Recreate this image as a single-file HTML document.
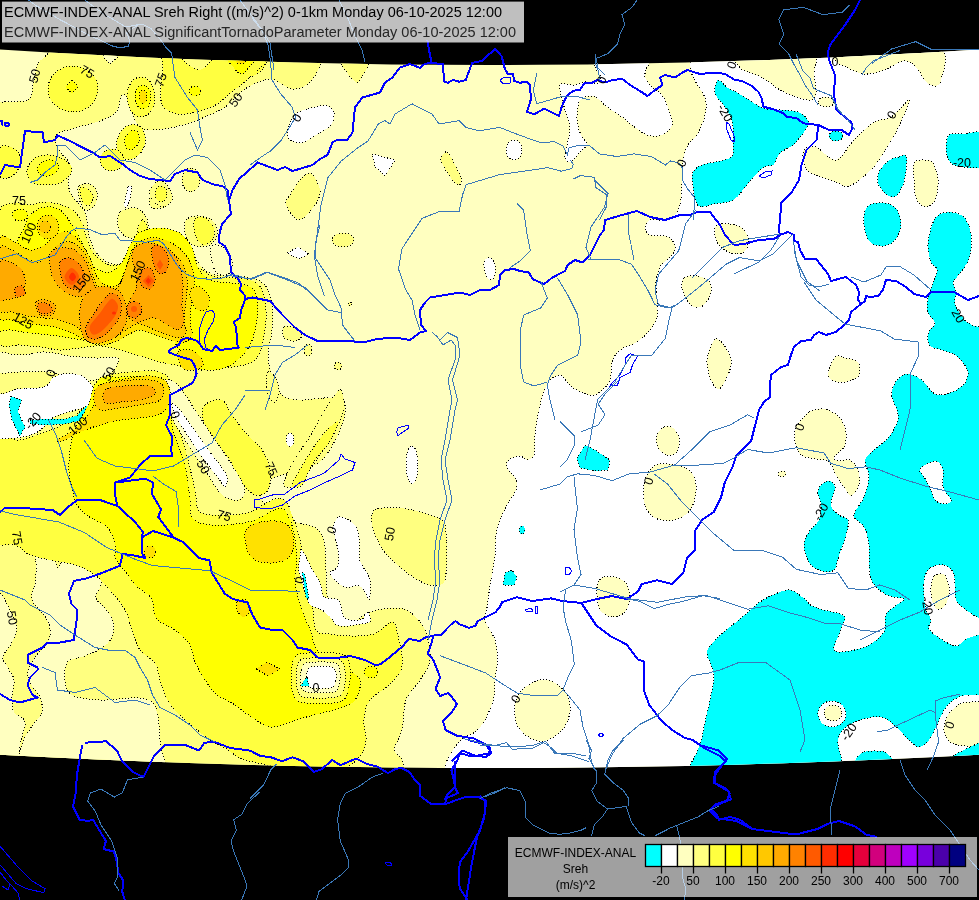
<!DOCTYPE html>
<html><head><meta charset="utf-8"><style>
html,body{margin:0;padding:0;background:#000;width:979px;height:900px;overflow:hidden}
svg{display:block}
text{font-family:"Liberation Sans",Arial,sans-serif}
.k{stroke:#000;stroke-width:1;stroke-dasharray:1 2;shape-rendering:crispEdges}
.r{fill:none;stroke:#3a78b8;stroke-width:1;shape-rendering:crispEdges}
.b{fill:none;stroke:#0000ff;stroke-width:2;stroke-linejoin:round;shape-rendering:crispEdges}
.lk{fill:none;stroke:#0000ff;stroke-width:1;shape-rendering:crispEdges}
.cl{font-size:12.5px;fill:#000;text-anchor:middle;dominant-baseline:central}
</style></head><body>
<svg width="979" height="900" viewBox="0 0 979 900">
<defs><clipPath id="m"><path d="M0.0,49.6 L49.0,52.5 L97.9,55.1 L146.8,57.5 L195.8,59.5 L244.8,61.1 L293.7,62.5 L342.6,63.6 L391.6,64.4 L440.6,64.8 L489.5,65.0 L538.5,64.8 L587.4,64.4 L636.4,63.6 L685.3,62.5 L734.2,61.1 L783.2,59.5 L832.1,57.5 L881.1,55.1 L930.0,52.5 L979.0,49.6 L979.0,754.8 L930.0,757.3 L881.1,759.6 L832.1,761.5 L783.2,763.2 L734.2,764.7 L685.3,765.9 L636.4,766.8 L587.4,767.5 L538.5,767.9 L489.5,768.0 L440.6,767.9 L391.6,767.5 L342.6,766.8 L293.7,765.9 L244.8,764.7 L195.8,763.2 L146.8,761.5 L97.9,759.6 L49.0,757.3 L0.0,754.8Z"/></clipPath></defs>
<rect width="979" height="900" fill="#000"/>
<g clip-path="url(#m)">
<rect width="979" height="900" fill="#ffffc0"/>
<path d="M690,40C740,36.3 945.4,-71.4 990,40C1040,165 1081,665 990,790C899,915 535,793.3 444,790C436,789.7 443,775.8 444,770C445,764.2 447,760.2 450,755C453,749.8 457.8,742.8 462,739C466.2,735.2 471.2,735.2 475,732C478.8,728.8 482,725.5 485,720C488.2,714.2 492.3,703.7 494,697C495.7,690.4 494.4,686.2 495,680C495.6,673.8 497.5,666.7 497.5,660C497.5,653.3 497.1,646.7 495,640C492.9,633.3 486.2,625.8 485,620C483.8,614.2 486.7,610.8 487.5,605C488.3,599.2 489.2,590 490,585C490.6,581 491.3,579 492,575C492.8,570 494.3,561.7 495,555C495.7,548.3 495.2,540.8 496,535C496.8,529.2 498.2,525 500,520C501.8,515 504.3,510 507,505C509.7,500 514.5,494.2 516,490C517.4,486.2 517.5,483.7 516,480C514.5,476.2 508.2,470.3 507,467C506,464.3 506.8,461.8 509,460C511.2,458.2 517,456 520,456C523,456 524.7,460.2 527,460C529.3,459.8 533,458.3 534,455C535.3,450.8 534.3,441.7 535,435C535.7,428.3 536.8,421.2 538,415C539.2,408.8 540.3,403.3 542,398C543.7,392.7 546,386.5 548,383C549.7,380.1 551.7,378.2 554,377C556.3,375.8 559.2,374.4 562,376C565,377.7 567.3,383.8 572,387C576.7,390.2 585.3,394.2 590,395C594.1,395.7 596.7,394.5 600,392C603.3,389.5 608,385 610,380C612,375 610.3,367 612,362C613.7,357 615.8,353.3 620,350C624.2,346.7 632,345.3 637,342C642,338.7 646.7,334.2 650,330C653.3,325.8 655.8,322 657,317C658.2,312 657.2,305.8 657,300C656.8,294.2 655.5,287.5 656,282C656.5,276.5 658.2,270.7 660,267C661.8,263.5 664.5,262.8 667,260C669.5,257.2 674.2,253.3 675,250C675.8,246.7 673.7,242.3 672,240C670.3,237.7 668.1,236.7 665,236C661.3,235.2 653.3,236.3 650,235C646.8,233.7 645,230.5 645,228C645,225.5 646.7,221.3 650,220C653.3,218.7 660.8,220.8 665,220C669.2,219.2 672.5,217.5 675,215C677.5,212.5 679.1,209.4 680,205C681.2,199.5 681.5,189.5 682,182C682.5,174.5 682,166.2 683,160C684,153.8 685.7,149.2 688,145C690.3,140.8 694.3,139.7 697,135C699.8,130 703.7,121.2 705,115C706.3,108.8 707,104.3 705,98C703,91.7 695.5,83 693,77C690.6,71.4 690.5,68.1 690,62C689.5,55.8 681.2,40.6 690,40Z" fill="#ffffff" class="k"/>
<path d="M595,50C604.2,47.2 641.5,46.7 650,50C657.6,53 646.8,65.5 646,70C645.5,72.8 644.1,74.3 645,77C646,79.8 649.2,84 652,87C654.8,90 659.2,91.2 662,95C664.8,98.8 667.3,105 669,110C670.7,115 673.2,120.8 672,125C670.8,129.2 666.2,133.3 662,135C657.8,136.7 652,136.7 647,135C642,133.3 636.2,128 632,125C627.8,122 626.2,120 622,117C617.8,114 611.5,110.3 607,107C602.5,103.7 598.7,98.7 595,97C591.4,95.3 587.7,96.2 585,97C582.3,97.8 580,99 579,102C577.7,105.8 576.7,114.5 577,120C577.3,125.5 579.3,131 581,135C582.7,139 586.8,141.5 587,144C587.2,146.5 583.8,147.8 582,150C580.2,152.2 578,155 576,157C574,159 571.8,161.8 570,162C568.2,162.2 565.4,160.5 565,158C564.5,155.2 566.2,150.2 567,145C567.8,139.8 570.3,132.8 570,127C569.7,121.2 566.5,115.3 565,110C563.5,104.7 561.8,99.2 561,95C560.2,91.1 559.3,86.8 560,85C560.7,83.2 563,84 565,84C567.5,84 571.7,85.3 575,85C578.3,84.7 581.2,82.3 585,82C588.8,81.7 595.5,84.2 598,83C600.5,81.8 600.5,77.7 600,75C599.5,72.3 595.7,70.7 595,67C594.2,62.8 588.5,52 595,50Z" fill="#ffffff" class="k"/>
<ellipse cx="514" cy="150" rx="8" ry="10" fill="#ffffff" class="k"/>
<ellipse cx="412" cy="465" rx="6" ry="19" fill="#ffffff" class="k"/>
<path d="M722,50C718.6,50.3 722.8,56 725,58C727.2,60 732,60 735,62C738,64 739.1,67.8 743,70C747.7,72.7 756.8,74.7 763,78C769.2,81.3 774.3,86.8 780,90C785.7,93.2 792,95.3 797,97C802,98.7 806.8,100.5 810,100C813.2,99.5 815.5,97.4 816,94C816.7,89.8 814.7,82.3 814,75C813.3,67.7 821.7,52.6 812,50C796.7,45.8 736.5,48.7 722,50Z" fill="#ffffc0" class="k"/>
<path d="M834,50C829.2,50.6 834,59.2 836,62C838,64.8 841.9,65.2 846,67C850.7,69 857.7,73.5 864,74C870.3,74.5 877.3,72.2 884,70C890.7,67.8 898.7,61.5 904,61C909.3,60.5 912.3,63.5 916,67C919.7,70.5 922.7,78.8 926,82C929.1,85 933.5,86.3 936,86C938.5,85.7 940.7,83.1 941,80C941.7,74 951.6,53.2 940,50C922.2,45 851.3,48 834,50Z" fill="#ffffc0" class="k"/>
<ellipse cx="826" cy="102" rx="8" ry="5" fill="#ffffc0" class="k"/>
<path d="M804,150C806,147.5 811.3,145.5 816,147C821.3,148.7 829.7,161.2 836,160C842.3,158.8 847.7,146.3 854,140C860.3,133.7 867.8,125.8 874,122C880,118.3 885.2,120.7 891,117C896.8,113.3 906.5,101.2 909,100C911.5,98.8 907.6,106.1 906,110C903.8,115.3 899.7,125 896,132C892.3,139 888.2,145.7 884,152C879.8,158.3 876.8,164.3 871,170C865.2,175.7 855.2,184.2 849,186C842.9,187.8 840,183.1 834,181C827.3,178.7 814,175.2 809,172C805.2,169.6 804.8,165.7 804,162C803.2,158.3 802,152.5 804,150Z" fill="#ffffc0" class="k"/>
<path d="M914,163C915.8,159.7 921.8,160 925,160C928.2,160 931.1,160.1 933,163C935.2,166.3 937.7,173.8 938,180C938.3,186.2 937.2,195.5 935,200C932.9,204.4 928.2,207.3 925,207C921.8,206.7 917.8,202.5 916,198C914.2,193.5 914.3,185.8 914,180C913.7,174.2 912.2,166.3 914,163Z" fill="#ffffc0" class="k"/>
<path d="M716,226C718.3,223.3 725.7,223.7 730,224C734.3,224.3 739,225.7 742,228C745,230.3 747.3,234.3 748,238C748.7,241.7 748,247.3 746,250C744,252.7 739.5,254 736,254C732.5,254 728.3,252.3 725,250C721.7,247.7 717.5,244 716,240C714.5,236 713.7,228.7 716,226Z" fill="#ffffc0" class="k"/>
<path d="M684,278C686.5,276 692.8,275.5 697,276C701.2,276.5 706.7,278.3 709,281C711.3,283.7 711.8,288 711,292C710.2,296 706.8,302.5 704,305C701.2,307.5 696.8,307.8 694,307C691.2,306.2 689,303.2 687,300C685,296.8 682.5,291.7 682,288C681.5,284.3 681.5,280 684,278Z" fill="#ffffc0" class="k"/>
<path d="M716,339C718.3,338.5 721.7,341.7 724,345C726.5,348.5 730.3,355 731,360C731.7,365 730,370.2 728,375C726,379.8 721.8,388.2 719,389C716.2,389.8 713,384.4 711,380C709,375.5 707.2,367.3 707,362C706.8,356.7 708.5,351.8 710,348C711.5,344.2 713.7,339.5 716,339Z" fill="#ffffc0" class="k"/>
<path d="M835,357C837.8,354.2 841.2,357.2 845,358C848.8,358.8 855.7,359.2 858,362C860.3,364.8 860.5,371.8 859,375C857.5,378.2 852.8,379.8 849,381C845.2,382.2 839.5,383 836,382C832.5,381 828.2,379.2 828,375C827.8,370.8 832.2,359.8 835,357Z" fill="#ffffc0" class="k"/>
<path d="M664,427C666.7,425.8 670.5,426.2 673,428C675.5,429.8 678.3,434 679,438C679.7,442 679,449.2 677,452C675,454.8 670.2,455.7 667,455C663.8,454.3 659.7,451.3 658,448C656.3,444.7 656,438.5 657,435C658,431.5 661.3,428.2 664,427Z" fill="#ffffc0" class="k"/>
<path d="M660,464C665,463.3 674.5,464.2 680,466C685.5,467.8 690.3,470.7 693,475C695.7,479.3 696.5,486.2 696,492C695.5,497.8 693.5,505.3 690,510C686.5,514.7 680.8,518.7 675,520C669.2,521.3 660,520.5 655,518C650,515.5 646.8,510.5 645,505C643.2,499.5 643.2,490.8 644,485C644.8,479.2 647.3,473.5 650,470C652.7,466.5 655.4,464.6 660,464Z" fill="#ffffc0" class="k"/>
<path d="M604,577C607.3,576.2 614.2,576.7 618,578C621.8,579.3 625,581.7 627,585C629,588.3 630.3,593.5 630,598C629.7,602.5 628,608.8 625,612C622,615.2 616.2,617.3 612,617C607.8,616.7 602.5,613.7 600,610C597.5,606.3 597.3,599.5 597,595C596.7,590.5 596.8,586 598,583C599.2,580 600.7,577.8 604,577Z" fill="#ffffc0" class="k"/>
<path d="M540,680C545.5,678.8 550.5,680.5 555,683C559.5,685.5 564.5,690.2 567,695C569.5,699.8 570.8,706.2 570,712C569.2,717.8 566.2,725.2 562,730C557.8,734.8 550.3,739.7 545,741C539.7,742.3 534.7,740.7 530,738C525.3,735.3 519.5,730.5 517,725C514.5,719.5 514.2,710.8 515,705C515.8,699.2 517.8,694.2 522,690C526.2,685.8 534.5,681.2 540,680Z" fill="#ffffc0" class="k"/>
<path d="M809,412C812.3,410.7 819,408.2 824,409C829,409.8 835.3,413.2 839,417C842.7,420.8 845.2,427 846,432C846.8,437 846,442.8 844,447C842,451.2 834.8,454.7 834,457C833.2,459.3 836.5,460.5 839,461C841.7,461.5 846.8,458.5 850,460C853.2,461.5 856.5,465.8 858,470C859.5,474.2 860.2,480.7 859,485C857.8,489.3 853.5,495.7 851,496C848.5,496.3 846.5,490.5 844,487C841.5,483.5 838.5,479.2 836,475C833.5,470.8 832.3,464.7 829,462C825.7,459.3 820.7,460.2 816,459C811.3,457.8 804.5,457.8 801,455C797.5,452.2 795.8,446.7 795,442C794.2,437.3 794.5,431.2 796,427C797.5,422.8 801.8,419.5 804,417C805.9,414.9 806.4,413.1 809,412Z" fill="#ffffc0" class="k"/>
<ellipse cx="782" cy="474" rx="4" ry="3" fill="#ffffc0" class="k"/>
<path d="M718.3,80C720.5,80 725,86.1 728.3,88.3C731.6,90.5 734.4,91.1 738.3,93.3C742.2,95.5 747.5,99.2 751.7,101.7C755.9,104.2 758.6,106.9 763.3,108.3C768,109.7 774.4,109.4 780,110C785.6,110.6 792.2,110.3 796.7,111.7C801.2,113.1 804.8,116.1 806.7,118.3C808.5,120.4 809.1,122.4 808.3,125C807.5,127.8 804.2,131.7 801.7,135C799.2,138.3 796.6,142.2 793.3,145C790,147.8 784.5,149.5 781.7,151.7C779.1,153.8 778.1,156.1 776.7,158.3C775.3,160.5 775.2,163.6 773.3,165C771.3,166.4 768,165.1 765,166.7C762,168.4 758,171.9 755,175C752,178.1 750.1,181.1 746.7,185C743.1,189.2 738.9,196.8 733.3,200C727.7,203.2 718.8,203.1 713.3,204.2C708,205.3 703,207.7 700,206.7C697,205.7 696.1,202 695,198.3C693.8,194.1 692.8,186.1 692.5,181.7C692.2,177.7 691.8,174.5 693.3,171.7C694.8,168.9 697.7,166.5 701.7,165C706.4,163.2 716.7,162.2 721.7,160.8C725.9,159.6 729.8,158.8 731.7,156.7C733.6,154.6 733.1,151.7 733.3,148.3C733.6,144.1 733.6,136.4 733.3,131.7C733,127 733.1,124.2 731.7,120C730.3,115.8 727.5,110.6 725,106.7C722.5,102.8 718.4,99.8 716.7,96.7C715,93.6 714.7,90.8 715,88C715.3,85.2 716.1,80 718.3,80Z" fill="#00ffff" class="k"/>
<ellipse cx="836" cy="136" rx="7" ry="5" fill="#00ffff" class="k"/>
<path d="M899,157C901.7,156.3 904.8,153.8 906,156C907.2,158.2 906.5,165.2 906,170C905.5,174.8 904.7,180.7 903,185C901.3,189.3 898.7,194.3 896,196C893.3,197.7 889.9,197.1 887,195C884,192.8 879.2,187.2 878,183C876.8,178.8 878,173.8 880,170C882,166.2 886.8,162.2 890,160C893.1,157.9 896.3,157.7 899,157Z" fill="#00ffff" class="k"/>
<path d="M949,135C951.8,132.3 957.4,134.2 963,134C969,133.8 981.3,128.8 985,134C988.7,139.2 989.7,159.7 985,165C980.3,170.3 963,166.8 957,166C953,165.4 950.8,162.7 949,160C947.2,157.3 946,154.2 946,150C946,145.8 946.2,137.7 949,135Z" fill="#00ffff" class="k"/>
<path d="M870,205C873.5,203 880.5,202.2 885,203C889.5,203.8 894.3,206.3 897,210C899.7,213.7 901.3,220 901,225C900.7,230 898,236.5 895,240C892,243.5 887.2,245.7 883,246C878.8,246.3 873,244.7 870,242C867,239.3 866,234.5 865,230C864,225.5 863.2,219.2 864,215C864.8,210.8 866.5,207 870,205Z" fill="#00ffff" class="k"/>
<path d="M940,214C944,212 951.7,212 956,213C960.3,214 963.5,216.3 966,220C968.5,223.7 970.3,229.2 971,235C971.7,240.8 971.2,249.5 970,255C968.8,260.5 966.2,264.3 964,268C961.8,271.7 958.8,274.5 957,277C955.3,279.3 953.2,280.5 953,283C952.8,285.5 955.7,288.7 956,292C956.3,295.3 954.3,299.3 955,303C955.7,306.7 957.8,310.7 960,314C962.2,317.3 964.8,320.8 968,323C971.2,325.2 975.3,326.3 979,327C982.7,327.7 989.9,322.6 990,327C991.8,389.2 991.8,638.7 990,700C989.9,704.8 982.2,695.8 979,695C975.9,694.2 974.2,694.7 971,695C967.7,695.3 963.2,695 959,697C954.8,699 949.8,702 946,707C942.2,712 938.8,721.5 936,727C933.3,732.3 931.8,736.7 929,740C926.2,743.3 922.3,747 919,747C915.7,747 912.7,743.2 909,740C904.8,736.3 898.7,728.8 894,725C889.3,721.2 886,718 881,717C876,716 869.8,717.3 864,719C858.2,720.7 850.3,723.5 846,727C841.7,730.5 839.1,734 838,740C836.3,748.8 851.5,776.1 836,780C809.7,786.7 704.3,782.5 680,780C672.8,779.3 686.7,770.8 690,765C693.3,759.2 697.5,752.2 700,745C702.5,737.8 703.3,729.5 705,722C706.7,714.5 708.5,707.5 710,700C711.5,692.5 713.8,682.8 714,677C714.1,672.1 712.2,669.2 711,665C709.8,660.8 706.3,656.2 707,652C707.7,647.8 711.2,644.2 715,640C718.8,635.8 725,631.2 730,627C735,622.8 740,619.2 745,615C750,610.8 755,605.5 760,602C765,598.5 770,596 775,594C780,592 785.5,589.5 790,590C794.5,590.5 798.3,594.3 802,597C805.7,599.7 808.3,603.8 812,606C815.7,608.2 819.2,608.5 824,610C829.3,611.7 841.2,612.8 844,616C846.8,619.2 842.5,623.9 841,629C839.3,634.7 832.7,646.3 834,650C835.3,653.7 843.2,651.8 849,651C854.8,650.2 863.2,648.2 869,645C874.8,641.8 881.2,637 884,632C886.8,627 884.3,619.2 886,615C887.7,610.8 891,609.7 894,607C897,604.3 904.8,600.8 904,599C903.2,597.2 893.7,598 889,596C884.3,594 879.2,590.5 876,587C872.8,583.5 870.9,580.3 870,575C868.8,568 870,553 869,545C868.1,537.6 866.5,531.7 864,527C861.5,522.3 855.3,519.8 854,517C852.8,514.4 854.7,512.6 856,510C857.7,506.7 861.8,502.5 864,497C866.2,491.5 868.8,483.2 869,477C869.2,470.8 864.2,464.5 865,460C865.8,455.5 870.1,453.7 874,450C878,446.2 885,442 889,437C893,432 896.7,424.5 898,420C899.1,416.1 898,413.8 897,410C896,406.2 892.7,400.8 892,397C891.3,393.2 891.7,390.3 893,387C894.3,383.7 897.5,379.2 900,377C902.5,374.8 905.2,374 908,374C910.8,374 914.2,375.5 917,377C919.8,378.5 922.5,380.5 925,383C927.5,385.5 929.5,390 932,392C934.5,394 936.6,395 940,395C943.5,395 948.8,394 953,392C957.2,390 962.5,386.3 965,383C967.5,379.7 968.3,375.3 968,372C967.7,368.7 965.2,365.8 963,363C960.8,360.2 958.3,357.2 955,355C951.7,352.8 946.8,351.3 943,350C939.2,348.7 934.6,348.7 932,347C929.4,345.3 927.8,342.8 927.5,340C927.2,337.2 928.8,332.8 930,330C931.2,327.2 935.3,326 935,323C934.7,320 929.2,316.2 928,312C926.8,307.8 927.2,302.8 928,298C928.8,293.2 931.5,287.7 933,283C934.5,278.3 937.3,273.5 937,270C936.7,266.5 932.4,265.8 931,262C929.5,257.8 927.8,251.2 928,245C928.2,238.8 930,230.2 932,225C934,219.9 936,216 940,214Z" fill="#00ffff" class="k"/>
<path d="M920,469C921.7,465.8 932.2,460.8 936,461C939.8,461.2 941.8,465.7 943,470C944.2,474.3 941.7,482 943,487C944.3,492 950.5,497.2 951,500C951.4,502.5 948.5,503.8 946,504C943.5,504.2 938.5,503.3 936,501C933.5,498.7 932.7,493.5 931,490C929.3,486.5 927.8,483.5 926,480C924.2,476.5 918.3,472.2 920,469Z" fill="#ffffff" class="k"/>
<path d="M930,568C933.3,565.5 940.2,564.3 944,565C947.8,565.7 951.2,568.7 953,572C954.8,575.3 954.5,580.3 955,585C955.5,589.7 954.2,595.8 956,600C957.8,604.2 962.2,607 966,610C969.8,613 975,616.3 979,618C983,619.7 988.2,618 990,620C991.8,622 993.1,627.5 990,630C986,633.2 971.7,636.3 966,639C961.6,641.1 960.2,646 956,646C951.8,646 945.5,641.8 941,639C936.5,636.2 930.7,632.2 929,629C927.3,625.8 931.5,623.2 931,620C930.5,616.8 927.2,613.8 926,610C924.8,606.2 924.3,602 924,597C923.7,592 923,584.8 924,580C925,575.2 926.7,570.5 930,568Z" fill="#ffffff" class="k"/>
<path d="M934,576C936,573.8 940.7,573 943,574C945.3,575 947,578.5 948,582C949,585.5 949.7,590.8 949,595C948.3,599.2 946,604.7 944,607C942.1,609.2 939,610.2 937,609C935,607.8 933,603.7 932,600C931,596.3 930.7,591 931,587C931.3,583 932,578.2 934,576Z" fill="#ffffc0" class="k"/>
<ellipse cx="832" cy="714" rx="14" ry="13" fill="#ffffff" class="k"/>
<ellipse cx="833" cy="713" rx="9" ry="8" fill="#ffffc0" class="k"/>
<path d="M960,704C964.5,701.8 970,702 975,702C980,702 988,698.3 990,704C992.5,711.2 994.2,738 990,745C985.8,752 971.7,746.5 965,746C958.8,745.5 953.5,744.7 950,742C946.5,739.3 944.3,734.5 944,730C943.7,725.5 945.3,719.3 948,715C950.7,710.7 955.5,706.2 960,704Z" fill="#ffffc0" class="k"/>
<path d="M855,770C849.3,767.3 856.7,757.2 860,754C863.3,750.8 870.3,751 875,751C879.7,751 884.8,750.8 888,754C891.2,757.2 899.5,767.3 894,770C888.5,772.7 860.7,772.7 855,770Z" fill="#00ffff" class="k"/>
<path d="M950,757 L960,752 L970,747 L979,743 L990,742 L990,775 L950,775Z" fill="#00ffff" class="k"/>
<path d="M818,490C819.2,486 825.2,481.5 828,481C830.8,480.5 834.5,483.3 835,487C835.5,491 830.3,500.3 831,505C831.7,509.7 836.2,512.5 839,515C841.8,517.5 846.8,516.7 848,520C849.2,523.3 847.5,529.2 846,535C844.5,540.8 841,549.2 839,555C837,560.8 837,567.3 834,570C831,572.7 825.2,572.3 821,571C816.8,569.7 811.8,566.3 809,562C806.2,557.7 804,550 804,545C804,540 806.5,536.2 809,532C811.5,527.8 817,524.5 819,520C821,515.5 821.2,510 821,505C820.8,500 816.8,494 818,490Z" fill="#00ffff" class="k"/>
<path d="M585,445 L595,450 L610,460 L608,470 L595,471 L580,468 L577,458Z" fill="#00ffff" class="k"/>
<ellipse cx="522" cy="530" rx="3" ry="4" fill="#00ffff" class="k"/>
<path d="M505,573 L512,570 L517,577 L514,585 L503,585Z" fill="#00ffff" class="k"/>
<path d="M49,40C94.5,38 276.5,36.7 322,40C330,40.6 324,53 322,60C320,67 315,77.2 310,82C305,86.8 298.7,89.5 292,89C285.3,88.5 277.8,79 270,79C262.2,79 252.5,84.3 245,89C237.5,93.7 232.5,102 225,107C217.5,112 208.3,115.7 200,119C191.7,122.3 183.3,125.2 175,127C166.7,128.8 156.2,130.2 150,130C144.9,129.9 141,130.1 138,126C134.3,121 130.7,105.2 128,100C126.6,97.2 124,93 122,95C120,97 119.7,107.7 116,112C112.3,116.3 106.8,118.3 100,121C93.2,123.7 82.2,125.8 75,128C67.8,130.2 60.2,131.5 57,134C54.2,136.2 55.5,140 56,143C56.5,146 58,149 60,152C62,155 66.2,157.8 68,161C69.8,164.2 71,167.7 71,171C71,174.3 68,177.2 68,181C68,184.8 69,190 71,194C73,198 77.5,201.5 80,205C82.5,208.5 84.7,210.8 86,215C87.3,219.2 87,225 88,230C89,235 90,240.5 92,245C94,249.5 96.7,253.8 100,257C103.3,260.2 107.8,263.2 112,264C116.2,264.8 121.2,264.7 125,262C128.8,259.3 131.7,251.7 135,248C138.3,244.3 140.2,241.9 145,240C150,238 158.7,236 165,236C171.3,236 178.5,237.3 183,240C187.5,242.7 189.2,247.8 192,252C194.8,256.2 196.7,261.3 200,265C203.3,268.7 206.7,272.2 212,274C217.3,275.8 225.7,275.3 232,276C238.3,276.7 244.5,276.5 250,278C255.5,279.5 261.3,280.5 265,285C268.7,289.5 270.8,297.5 272,305C273.2,312.5 272.7,321.7 272,330C271.3,338.3 268,347.5 268,355C268,362.5 269.7,368.3 272,375C274.3,381.7 277.3,390.8 282,395C286.7,399.2 292.5,399.5 300,400C308,400.5 322.5,397.2 330,398C336.6,398.7 343.3,399.7 345,405C346.7,410.3 343.8,420.8 340,430C336.2,439.2 328.7,453.3 322,460C315.3,466.7 308.7,466.7 300,470C291.3,473.3 276.3,475 270,480C263.7,485 258.7,493.3 262,500C265.3,506.7 280,514.2 290,520C300,525.8 315.9,522.2 322,535C328.3,548.3 324.2,585 328,600C331,611.7 338,623 345,625C352,627 361.7,614.8 370,612C378.3,609.2 388.3,608 395,608C401.2,608 405,608.3 410,612C415,615.7 421.7,622 425,630C428.3,638 430.8,651.7 430,660C429.2,668.3 424,673.3 420,680C416,686.7 409,691.7 406,700C403,708.3 404,721.7 402,730C400,738.3 394,745 394,750C394,755 401.2,754.9 402,760C403,766.7 412,789.1 400,790C331.3,795 58.3,903 -10,790C-78.3,677 -16.3,227 -10,112C-9.1,96.1 20.8,104.5 28,100C33.4,96.6 31.3,91 33,85C34.7,79 35.3,69.5 38,64C40.7,58.5 47.2,56 49,52C50.8,48 44.2,40.2 49,40Z" fill="#ffff80" class="k"/>
<path d="M-10,352C-5,349.2 10.8,355 20,355C29.2,355 36.7,351.8 45,352C53.3,352.2 61.7,355 70,356C78.3,357 87,357.7 95,358C103,358.3 115.2,355.7 118,358C120.8,360.3 115.8,368.3 112,372C108.2,375.7 101.2,378.7 95,380C88.8,381.3 82.5,381.3 75,380C67.5,378.7 59.2,373.3 50,372C40.8,370.7 30,372 20,372C10,372 -5,375.3 -10,372C-15,368.7 -15,354.8 -10,352Z" fill="#ffffc0" class="k"/>
<path d="M32,530C33.7,527 38.9,525.2 41,526.7C43.1,528.2 42.5,534.3 44.4,539C46.4,544 50.9,552.2 53.3,557C55.4,561.3 56.9,568.5 58.7,567.6C60.5,566.7 62,555 64,551.6C65.7,548.7 67.7,547.8 71,547C74.3,546.2 79.8,545.3 83.6,547C87.4,548.7 91.1,553 94,557C96.9,561 99.8,566.3 101,571C102.2,575.7 101.8,580.5 101,585C100.2,589.5 95,593.8 96,598C97,602.2 103.7,605.6 106.7,610C109.7,614.4 113.2,619.3 113.8,624.4C114.3,629.5 112.4,636.2 110,640.4C107.6,644.5 104,646.6 99.6,649.3C95.2,652 88.9,654.3 83.6,656.4C78.3,658.5 70.7,658.1 67.6,662C64.5,665.9 64.3,674.5 65,680C65.7,685.5 66.3,691.7 72,695C77.8,698.3 88.7,699.5 100,700C111.3,700.5 130.8,697 140,698C146.8,698.7 152.1,699.9 155,706C158.3,713 159.5,726.3 160,740C160.5,754 176.8,783.3 158,790C134.7,798.3 42.7,797.5 20,790C2.9,784.3 19.5,756.3 22,745C24.3,734.7 31.7,727.5 35,722C37.5,717.8 41.2,716.2 42,712C42.8,707.8 42,701.8 40,697C38,692.2 32,687.5 30,683C28,678.5 27,674.5 28,670C29,665.5 32.7,660.7 36,656C39.3,651.3 45.7,646.7 48,642C50.3,637.3 50.4,632.4 49.8,628C49.2,623.6 47.3,620.2 44.4,615.6C41.4,610.9 33.5,605.5 32,599.6C30.5,593.7 35,586.8 35.6,580C36.2,573.2 36.4,564.6 35.6,558.7C34.8,552.8 31.6,549.2 31,544.4C30.4,539.6 30.3,533 32,530Z" fill="#ffffc0" class="k"/>
<path d="M-10,593C-9.8,589 -3,590.4 0,593C3.3,595.8 7.2,604.3 10,610C12.8,615.7 16.4,621.5 16.7,627C17,632.5 14,638 11.7,643C9.4,648 3.6,652.8 3,657C2.4,661.2 6.2,664.2 8,668C9.8,671.8 13.3,675.2 14,680C14.7,684.8 12,691.7 12,697C12,702.3 11.8,707.8 14,712C16.2,716.2 24,716.5 25,722C26,727.5 21.4,735.7 20,745C18.3,756.3 20,782.5 15,790C10,797.5 -8.7,799.9 -10,790C-14.2,757.2 -11.7,625.8 -10,593Z" fill="#ffffc0" class="k"/>
<path d="M212,246C214.2,243.7 221.7,245.7 225,248C228.3,250.3 231.2,255.8 232,260C232.8,264.2 232.3,270.7 230,273C227.7,275.3 221,275.8 218,274C215,272.2 213,266.7 212,262C211,257.3 209.8,248.3 212,246Z" fill="#ffffc0" class="k"/>
<path d="M101,50 L118,50 L117,58 L110,64 L104,58Z" fill="#ffffc0" class="k"/>
<path d="M337,58 L372,58 L365,72 L357,84 L350,77Z" fill="#ffff80" class="k"/>
<path d="M305,175C307,174 310,172 312,174C314.5,176.5 319.5,184.8 320,190C320.5,195.2 318.5,200 315,205C311.5,210 303.8,220 299,220C294.2,220 287.5,209.2 286,205C284.5,200.9 287.9,198.8 290,195C292.3,190.8 297.5,183.3 300,180C301.7,177.7 303,176 305,175Z" fill="#ffff80" class="k"/>
<path d="M447,152C449.3,153.2 452.7,160.7 455,165C457.3,169.3 460.3,174.7 461,178C461.6,180.9 460.7,185 459,185C457.3,185 453.7,181.3 451,178C448.3,174.7 444.7,168.3 443,165C441.7,162.4 440.3,160.2 441,158C441.7,155.8 444.7,150.8 447,152Z" fill="#ffff80" class="k"/>
<ellipse cx="343" cy="240" rx="11" ry="7" fill="#ffff80" class="k"/>
<ellipse cx="350" cy="304" rx="2" ry="2" fill="#ffff80" class="k"/>
<path d="M284,327C286,325.3 293,326.7 296,328C299,329.3 302,332.8 302,335C302,337.2 299,340.5 296,341C293,341.5 286,340.3 284,338C282,335.7 282,328.7 284,327Z" fill="#ffff80" class="k"/>
<ellipse cx="308" cy="350" rx="4" ry="6" fill="#ffff80" class="k"/>
<ellipse cx="338" cy="366" rx="4" ry="4" fill="#ffff80" class="k"/>
<path d="M268,372C269.7,371.3 274.2,374.7 276,378C277.8,381.3 279.2,388 279,392C278.8,396 276.8,401.3 275,402C273.2,402.7 269.5,399.3 268,396C266.5,392.7 266,386 266,382C266,378 266.3,372.7 268,372Z" fill="#ffff80" class="k"/>
<path d="M120,212C122.8,209.2 130.8,207.5 135,208C139.2,208.5 142.8,211.7 145,215C147.2,218.3 148.8,224.2 148,228C147.2,231.8 143.8,236.7 140,238C136.2,239.3 128.7,238.2 125,236C121.3,233.8 118.8,229 118,225C117.2,221 117.2,214.8 120,212Z" fill="#ffff80" class="k"/>
<path d="M150,198C151.7,195.8 158.7,194.7 162,195C165.3,195.3 169.5,198 170,200C170.5,202 168,205.7 165,207C162,208.3 154.5,209.5 152,208C149.5,206.5 148.3,200.2 150,198Z" fill="#ffff80" class="k"/>
<path d="M186,220C188.3,216.7 195.3,215.7 200,216C204.7,216.3 211.2,218.8 214,222C216.8,225.2 217.7,231.2 217,235C216.3,238.8 213.7,243.2 210,245C206.3,246.8 199,247.5 195,246C191,244.5 187.5,240.3 186,236C184.5,231.7 183.7,223.3 186,220Z" fill="#ffff80" class="k"/>
<path d="M79,186C80.8,183.7 87,183 90,184C93,185 96.2,188.5 97,192C97.8,195.5 97,202 95,205C93,208 87.7,211.2 85,210C82.3,208.8 80,202 79,198C78,194 77.2,188.3 79,186Z" fill="#ffff80" class="k"/>
<path d="M375,510C379.7,507.2 390.8,507.2 400,508C409.2,508.8 422.5,512.2 430,515C436.7,517.5 443.4,518 445,525C447.5,535.8 447.5,570 445,580C443.5,586.1 435.8,585.8 430,585C424.2,584.2 416.3,579.2 410,575C403.7,570.8 397,565 392,560C387,555 383.3,550.8 380,545C376.7,539.2 372.8,530.8 372,525C371.2,519.2 370.3,512.8 375,510Z" fill="#ffff80" class="k"/>
<path d="M0,210C0.7,203.4 10,203.8 15,203C20,202.2 25,205.2 30,205C35,204.8 39.7,202 45,202C50.3,202 57,203.3 62,205C67,206.7 71.5,208.7 75,212C78.5,215.3 81,220.3 83,225C85,229.7 85,235 87,240C89,245 91.2,250.8 95,255C98.8,259.2 105,263.8 110,265C115,266.2 120.8,264.5 125,262C129.2,259.5 130.8,253.3 135,250C139.2,246.7 145,243.7 150,242C155,240.3 160,239.5 165,240C170,240.5 175.8,242 180,245C184.2,248 186.7,254.2 190,258C193.3,261.8 195.8,264.8 200,268C204.2,271.2 209.2,275.3 215,277C220.8,278.7 228.3,277.2 235,278C241.7,278.8 250.2,279.2 255,282C259.8,284.8 262.2,288.9 264,295C265.8,301.3 266.3,311.7 266,320C265.7,328.3 263.8,338.3 262,345C260.2,351.4 258.7,356.5 255,360C251.3,363.5 245.8,364.7 240,366C234.2,367.3 226.7,367.3 220,368C213.3,368.7 206.7,370.3 200,370C193.3,369.7 186.7,367.3 180,366C173.3,364.7 166.7,363.7 160,362C153.3,360.3 146.7,358 140,356C133.3,354 126.7,351.7 120,350C113.3,348.3 106.7,346.3 100,346C93.3,345.7 86.7,347.3 80,348C73.3,348.7 66.7,350.2 60,350C53.3,349.8 46.7,347.8 40,347C33.3,346.2 26.7,345.7 20,345C13.3,344.3 1.2,351 0,343C-3.3,320.5 -2.5,233.3 0,210Z" fill="#ffff40" class="k"/>
<path d="M245,61C248.3,58.2 262.2,56.5 265,58C267.8,59.5 264.5,66.8 262,70C259.5,73.2 252.8,76.2 250,77C247.9,77.6 245.6,77.1 245,75C244.2,72.3 241.7,63.8 245,61Z" fill="#ffff40" class="k"/>
<path d="M0,148C0.8,144.8 5,145.3 8,146C11,146.7 16,148.8 18,152C20,155.2 21,161 20,165C19,169 15.3,174.2 12,176C8.7,177.8 1.9,180.4 0,176C-2,171.3 -1.3,153 0,148Z" fill="#ffff40" class="k"/>
<path d="M80,188C80.8,185.7 85.8,187.5 88,189C90.2,190.5 92.7,194.3 93,197C93.3,199.7 91.7,204 90,205C88.3,206 84.5,205.5 83,203C81.3,200.2 79.2,190.3 80,188Z" fill="#ffff40" class="k"/>
<path d="M195,219C196.7,216.2 201.8,216.5 205,218C208.2,219.5 212.8,224.3 214,228C215.2,231.7 213.8,237.2 212,240C210.2,242.8 205.8,245.8 203,245C200.2,244.2 196.3,239.3 195,235C193.7,230.7 193.3,221.8 195,219Z" fill="#ffff40" class="k"/>
<path d="M142,220C143.8,219 147.5,225 148,228C148.5,231 146.8,237 145,238C143.2,239 137.5,237 137,234C136.5,231 140.2,221 142,220Z" fill="#ffff40" class="k"/>
<ellipse cx="73" cy="89" rx="25" ry="23" fill="#ffff40" class="k"/>
<path d="M72,80 L78,87 L72,94 L66,87Z" fill="#ffff00" class="k"/>
<ellipse cx="141" cy="97" rx="14" ry="20" fill="#ffff40" class="k"/>
<ellipse cx="143" cy="97" rx="8" ry="12" fill="#ffff00" class="k"/>
<ellipse cx="143" cy="97" rx="4" ry="7" fill="#ffe100" class="k"/>
<ellipse cx="131" cy="142" rx="14" ry="18" fill="#ffff40" transform="rotate(20 131 142)" class="k"/>
<ellipse cx="132" cy="140" rx="7" ry="10" fill="#ffff00" transform="rotate(20 132 140)" class="k"/>
<path d="M27,170C27.5,166 31.2,160.5 35,158C38.8,155.5 45,154.7 50,155C55,155.3 61.3,157.5 65,160C68.7,162.5 72.5,166.3 72,170C71.5,173.7 66.5,179.5 62,182C57.5,184.5 50,185 45,185C40,185 35,184.5 32,182C29,179.5 26.5,174 27,170Z" fill="#ffff40" class="k"/>
<ellipse cx="48" cy="168" rx="11" ry="8" fill="#ffff00" transform="rotate(-15 48 168)" class="k"/>
<ellipse cx="112" cy="160" rx="12" ry="11" fill="#ffff40" class="k"/>
<path d="M160,180C163.3,180 168,186.7 170,190C172,193.3 173.2,197.2 172,200C170.8,202.8 166.3,207 163,207C159.7,207 154.2,202.8 152,200C149.8,197.2 148.7,193.3 150,190C151.3,186.7 156.7,180 160,180Z" fill="#ffff80" class="k"/>
<ellipse cx="161" cy="194" rx="6" ry="8" fill="#ffff40" class="k"/>
<ellipse cx="191" cy="180" rx="9" ry="12" fill="#ffff80" class="k"/>
<path d="M163,52C166.2,49 178.8,50.8 182,52C184.6,53 180.1,57 182,59C184.8,62 194.2,69.7 199,70C203.8,70.3 208.3,63.6 211,60.6C213.5,57.8 211.2,52.6 215,52C224.5,50.6 259.3,50.3 268,52C271.9,52.8 269,58.8 267,62C265,65.2 260,67.7 256,71.2C252,74.7 247.4,79.4 243,83.2C238.6,87 234.5,90 229.7,93.8C224.9,97.6 219.9,102.7 214,105.8C208.1,108.9 200.2,111 194,112.4C187.8,113.8 181.7,115.1 176.5,114C171.3,112.9 165.7,110 163,106C160.3,102 160.6,96 160.6,90C160.6,84 162.6,76.3 163,70C163.4,63.7 159.8,55 163,52Z" fill="#ffff40" class="k"/>
<path d="M227,55C230.8,52.8 253.2,53.2 257,55C260.8,56.8 252.5,62.8 250,66C247.5,69.2 244.7,73.7 242,74C239.3,74.3 236.5,71.1 234,68C231.5,64.8 223.2,57.2 227,55Z" fill="#ffff00" class="k"/>
<ellipse cx="241" cy="61" rx="5" ry="3" fill="#ffe100" class="k"/>
<ellipse cx="195" cy="91" rx="6" ry="5" fill="#ffff00" class="k"/>
<path d="M289,125C290.7,122.1 292.3,115.7 297.5,112.5C302.7,109.3 315,107.1 320,106C322.9,105.4 325.2,104.9 327.5,106C329.8,107.1 333.4,109.3 334,112.5C334.6,115.7 333.3,121.7 331,125C328.7,128.3 324.5,129.7 320,132.5C315.2,135.4 307.5,141.2 302.5,142.5C297.6,143.7 292.5,142.1 290,140C287.5,137.9 287.7,132.5 287.5,130C287.4,127.9 288,126.8 289,125Z" fill="#ffffff" class="k"/>
<path d="M372.5,154 L395,160 L385,176 L375,167Z" fill="#ffffff" class="k"/>
<path d="M287,253 L298,247 L309,254 L299,259Z" fill="#ffffff" class="k"/>
<path d="M128,186 L132,186 L130,200 L126,208 L124,205Z" fill="#ffffff" class="k"/>
<path d="M484,262C484.4,259.1 488.2,257.5 490,258C491.8,258.5 494.3,261.7 495,265C495.7,268.3 495.3,275.8 494,278C492.7,280.2 488.5,280.4 487,278C485.3,275.3 483.5,265.3 484,262Z" fill="#ffffff" class="k"/>
<path d="M341,390C342.4,392.3 344.9,401.3 344,408C343.1,414.7 339.2,422.7 335.5,430C331.8,437.3 325.9,445.5 321.7,452C317.5,458.5 314.1,463.5 310.5,469C306.9,474.5 304.4,482.3 300,485C295.6,487.7 285,489.1 284,485C283,480.9 289.6,468.8 294,460.5C298.4,452.2 305.4,443.8 310.5,435.5C315.6,427.2 320.2,417.4 324.4,410.5C328.5,403.7 332.7,397.4 335.5,394C337.2,391.9 339.6,387.7 341,390Z" fill="#ffff80" class="k"/>
<path d="M338,421.7C338.5,423.5 334.2,434.1 330,441C325.8,447.9 317.7,455.7 313,463C308.3,470.3 305.5,481.3 302,485C299.2,487.9 291,488.9 292,485C293.4,479.5 304.7,461.2 310.5,452C316.3,442.8 322.4,435.1 327,430C330.7,425.9 337.5,419.9 338,421.7Z" fill="#ffff40" class="k"/>
<path d="M-10,440C-6.6,428.5 10.8,441.3 20,440C29.2,438.7 36.7,435.3 45,432C53.3,428.7 61.7,426.2 70,420C78.3,413.8 90,402 95,395C99.1,389.2 94.2,381.8 100,378C105.8,374.2 120,373 130,372C140,371 153,369.8 160,372C166.8,374.1 169.5,379.5 172,385C174.5,390.5 173.7,397.5 175,405C176.3,412.5 177.8,420.8 180,430C182.2,439.2 185.5,450 188,460C190.5,470 193,481.3 195,490C197,498.7 195,507.8 200,512C205,516.2 216.7,515 225,515C233.3,515 242.2,514.5 250,512C257.8,509.5 266.2,502 272,500C276.9,498.3 281.7,497.5 285,500C288.3,502.5 289.7,508.8 292,515C294.5,521.7 297.8,530.8 300,540C302.2,549.2 303,560 305,570C307,580 310.2,590 312,600C313.8,610 313,624.3 316,630C318.7,635.1 324.3,633 330,634C335.7,635 342.7,636 350,636C357.3,636 367,636.3 374,634C381,631.7 388,621.7 392,622C396,622.3 396.6,630.1 398,636C399.7,643.3 403.3,658 402,666C400.7,674 395.3,678.3 390,684C384.7,689.7 374.3,694 370,700C365.7,706 364.7,713.3 364,720C363.3,726.7 366.7,734 366,740C365.3,746 364.3,751 360,756C355.7,761 349.5,767.8 340,770C330,772.3 315.8,771.7 300,770C284.2,768.3 257.5,763.7 245,760C236,757.4 230.8,751.3 225,748C219.2,744.7 215,743.3 210,740C205,736.7 200.8,733 195,728C189.2,723 180,715.5 175,710C170.1,704.7 167.5,700 165,695C162.5,690 161.7,685.3 160,680C158.3,674.7 158.3,668 155,663C151.7,658 143.8,655.5 140,650C136.2,644.5 134.5,636.7 132,630C129.5,623.3 128.7,616.7 125,610C121.3,603.3 115,595.8 110,590C105,584.2 100.8,579.2 95,575C89.2,570.8 82.5,567.5 75,565C67.5,562.5 57.5,561.7 50,560C42.5,558.3 35.8,557.5 30,555C24.2,552.5 21.7,547.5 15,545C8.3,542.5 -7.6,549.9 -10,540C-14.2,522.5 -15,456.7 -10,440Z" fill="#ffff40" class="k"/>
<path d="M205,405C208.2,401.7 217.5,398.3 222,400C226.5,401.7 228.2,409.7 232,415C235.8,420.3 240,426.2 245,432C250,437.8 257.8,443.7 262,450C266.2,456.3 269,463.3 270,470C271,476.7 270.5,485.8 268,490C265.5,494.2 259.7,496.7 255,495C250.3,493.3 244.2,485.8 240,480C235.8,474.2 234.2,466.7 230,460C225.8,453.3 219.5,446.7 215,440C210.5,433.3 204.7,425.8 203,420C201.3,414.2 201.8,408.3 205,405Z" fill="#ffff40" class="k"/>
<path d="M165,380C167.5,378.3 174.1,381.1 178,385C183,390 188.8,400.8 195,410C201.2,419.2 208.3,430 215,440C221.7,450 230,461.7 235,470C239.6,477.7 244.5,485 245,490C245.5,494.9 241.8,499.2 238,500C234.2,500.8 227,499.5 222,495C216.5,490 211.2,479.2 205,470C198.8,460.8 190.8,449.2 185,440C179.2,430.8 173.7,422.5 170,415C166.3,407.5 163.8,400.8 163,395C162.2,389.2 162.5,381.7 165,380Z" fill="#ffffc0" class="k"/>
<path d="M172,404C172.7,402.8 177.5,406.9 180,410C185.8,417.3 199.2,437 207,448C214.8,459 224,469.5 227,476C228.9,480.1 226.3,486.5 225,487C223.7,487.5 221.4,482.2 219,479C214.8,473.5 207.2,464.3 200,454C192.8,443.7 180.7,425.3 176,417C173.3,412.3 171.3,405.2 172,404Z" fill="#ffffff" class="k"/>
<ellipse cx="290" cy="440" rx="4" ry="7" fill="#ffffff" class="k"/>
<path d="M-10,392C-8.5,386.9 -1.5,394.5 3,394C7.5,393.5 11.1,390 17,389C23.8,387.8 37.8,389 44,387C49.4,385.3 50.2,379.2 54,377C57.8,374.8 62,373.5 67,373.5C72,373.5 79.5,374.2 84,377C88.5,379.8 92.8,385.5 94,390C95.2,394.5 94.3,400.6 91,404C87.7,407.4 80.2,408.3 74,410.5C67.8,412.7 59,414.2 54,417C49,419.7 47.3,424.2 44,427C40.7,429.8 38,432.2 34,434C30,435.8 25.7,436.7 20,437.5C14.3,438.3 5,438.8 0,439C-4,439.2 -9.2,442.9 -10,439C-11.7,431.2 -12.2,399.5 -10,392Z" fill="#ffffff" class="k"/>
<path d="M11,396 L22,400 L18,412 L25,427 L20,436 L12,420 L9,405Z" fill="#00ffff" class="k"/>
<path d="M30,420 L47,419 L66,419 L78,415 L86,406 L90,409 L82,420 L65,424 L45,425 L30,424Z" fill="#00ffff" class="k"/>
<path d="M-10,262C-7.7,253 4.7,255 10,250C15.3,245 18.7,237.8 22,232C25.3,226.2 26.2,219.2 30,215C33.8,210.8 40,207.8 45,207C50,206.2 55.8,207.5 60,210C64.2,212.5 67,217.8 70,222C73,226.2 75.1,229.6 78,235C81,240.5 85.2,249.5 88,255C90.7,260.3 91.3,265.2 95,268C98.7,270.8 105.5,273 110,272C114.5,271 118.7,266.5 122,262C125.3,257.5 127,250 130,245C133,240 135,234.8 140,232C145,229.2 153.3,227.8 160,228C166.7,228.2 174.7,229.7 180,233C185.3,236.3 189,242.2 192,248C195,253.8 195,262.7 198,268C201,273.3 204.7,277.5 210,280C215.3,282.5 224.2,282.2 230,283C235.8,283.8 240.8,283.5 245,285C249.2,286.5 252.8,287.8 255,292C257.2,296.2 258,303.7 258,310C258,316.3 256.3,324.2 255,330C253.7,335.8 252.5,340.3 250,345C247.5,349.7 244.2,354.2 240,358C235.8,361.8 230.8,366 225,368C219.2,370 210.8,371 205,370C199.2,369 194.5,365.7 190,362C185.5,358.3 181.3,352.5 178,348C174.7,343.5 174.7,338.8 170,335C165.3,331.2 156.7,327.2 150,325C143.3,322.8 136.7,321.2 130,322C123.3,322.8 116.7,327 110,330C103.3,333 96.7,338.7 90,340C83.3,341.3 76.7,338.8 70,338C63.3,337.2 56.7,335.8 50,335C43.3,334.2 36.7,333.8 30,333C23.3,332.2 16.7,330.8 10,330C3.3,329.2 -7.7,335.7 -10,328C-13.3,316.7 -13.3,275 -10,262Z" fill="#ffff00" class="k"/>
<ellipse cx="20" cy="215" rx="8" ry="6" fill="#ffff00" class="k"/>
<path d="M98,380C103.3,375.3 111.3,377.5 120,377C128.7,376.5 142,375.7 150,377C157.8,378.3 164.7,381.2 168,385C171.3,388.8 169.4,394 170,400C170.7,406.7 170.7,417.5 172,425C173.3,432.5 175.8,438.3 178,445C180.2,451.7 183.2,456.7 185,465C187,474.2 188.8,491.2 190,500C190.9,507.2 188.7,513.8 192,518C195.3,522.2 202.8,524 210,525C217.2,526 227.5,524.8 235,524C242.5,523.2 247.5,522.7 255,520C262.5,517.3 274.2,508 280,508C285.8,508 287.5,514.7 290,520C292.5,525.3 293.8,533 295,540C296.2,547 297,555.3 297,562C297,568.7 294.5,572.8 295,580C295.5,587.2 297.5,596.7 300,605C302.5,613.3 307.2,622.5 310,630C312.8,637.5 313.7,645 317,650C320.3,655 325.3,657 330,660C334.7,663 340,664.7 345,668C350,671.3 358.3,674.7 360,680C361.7,685.3 358.3,695.3 355,700C351.7,704.7 346.4,705.7 340,708C332.5,710.7 318.3,713.7 310,716C302,718.3 296.7,720.2 290,722C283.3,723.8 276.7,728 270,727C263.3,726 256.3,720 250,716C243.7,712 237.5,706.5 232,703C226.5,699.5 221.5,698.8 217,695C212.5,691.2 208.7,685.5 205,680C201.3,674.5 197.5,667.8 195,662C192.5,656.2 193.3,650.3 190,645C186.7,639.7 180,633.8 175,630C170,626.2 163.4,624.4 160,622C157.3,620.1 155.9,618.7 154.7,615.6C153.2,611.6 154.3,603.1 151,598C147.7,592.9 138.8,588.9 135,585C131.5,581.5 131,578.7 128,574.7C124.8,570.3 117.7,563.7 115.6,558.7C113.5,553.8 117,550.3 115.6,545C114.2,539.7 111.4,531.7 107,527C102.6,522.3 94.5,520.8 89.4,517C84.3,513.2 79.6,509.2 76.6,504C73.6,498.8 72.8,491.5 71.5,486C70.2,480.5 69.2,477 69,471C68.8,465 69,456.8 70,450C71,443.2 72,437.5 75,430C78,422.5 84.2,413.3 88,405C91.8,396.7 92.7,384.7 98,380Z" fill="#ffff00" class="k"/>
<path d="M300,654C308.3,652.2 333.7,651.7 342,654C348.2,655.7 349,662 350,668C351,674 349.7,684.3 348,690C346.4,695.5 345.6,700.6 340,702C332,704 308,704 300,702C294.4,700.6 293.2,695.6 292,690C290.7,683.8 290.7,671 292,665C293.2,659.7 294.7,655.2 300,654Z" fill="#ffff40" class="k"/>
<path d="M303,659C309.8,657.5 331,657.2 338,659C343,660.3 344,665.2 345,670C346,674.8 345.3,683.5 344,688C342.7,692.4 341.5,696 337,697C330.2,698.5 309.7,698.5 303,697C298.8,696.1 297.9,692.2 297,688C296,683.2 296,672.8 297,668C297.9,663.8 298.8,659.9 303,659Z" fill="#ffff80" class="k"/>
<path d="M306,663C311.7,661.7 329.3,661.5 335,663C339,664.1 339.3,668.3 340,672C340.7,675.7 340,681.7 339,685C338,688.3 337.4,691.3 334,692C328.5,693.2 311.5,693.2 306,692C302.6,691.3 301.8,688.3 301,685C300.2,681.5 300.2,674.7 301,671C301.8,667.3 302.3,663.9 306,663Z" fill="#ffffc0" class="k"/>
<path d="M311,667C315.2,666 327.8,665.8 332,667C335.1,667.9 335.5,671.2 336,674C336.5,676.8 335.8,681.7 335,684C334.2,686.1 333.2,687.6 331,688C327,688.7 315,688.7 311,688C308.8,687.6 307.6,686.2 307,684C306.3,681.5 306.3,675.8 307,673C307.7,670.2 308.2,667.7 311,667Z" fill="#ffffff" class="k"/>
<path d="M300,686 L307,677 L309,686Z" fill="#00ffff" class="k"/>
<ellipse cx="371" cy="672" rx="7" ry="6" fill="#ffff00" class="k"/>
<path d="M339,517C342.1,516 348.5,519.5 351.6,521.8C354.7,524.1 356.5,526.9 357.8,531C359.1,535.1 359.1,542 359.4,546.7C359.7,551.4 358.6,555.4 359.4,559C360.2,562.6 362.3,565.4 364,568.5C365.7,571.6 368.4,574.2 369.5,577.8C370.6,581.4 370.4,586.7 370.3,590.3C370.2,593.9 369.8,599.6 368.7,599.6C367.6,599.6 365.8,592.6 364,590.3C362.2,588 360.9,586.1 357.8,585.6C354.7,585.1 349,588 345.4,587.2C341.8,586.4 338.6,583.4 336,581C333.4,578.6 329.8,575.1 329.8,573C329.8,570.9 334.5,570.8 336,568.5C337.5,566.2 339,563 339,559C339,554.3 337,545.7 336,540.5C335,535.5 332.5,531.9 333,528C333.5,524.1 335.9,518 339,517Z" fill="#ffffff" class="k"/>
<path d="M301.8,549.8C303.6,551.6 307.9,561.3 311,567C314.1,572.7 318.4,579.1 320.5,584C322.5,588.7 320.8,593.9 323.6,596.5C326.5,599.1 334.8,598.1 337.6,599.6C340,600.9 339.6,603.2 340.7,605.8C342,608.9 342,616 345.4,618.3C348.8,620.6 357.4,620.8 361,619.8C364.6,618.8 365.6,611.7 367.2,612C368.8,612.3 371.9,619.3 370.3,621.4C368.7,623.5 362.9,623.8 357.8,624.5C352.6,625.3 343.7,627.3 339,626C334.3,624.7 332.9,619.5 329.8,616.7C326.7,613.9 323.6,610.8 320.5,609C317.4,607.2 313.3,607.9 311,605.8C308.7,603.7 307.9,600.4 306.5,596.5C305,592.4 303.1,585.7 301.8,581C300.5,576.3 299,572.7 298.7,568.5C298.4,564.3 299.7,559.1 300.2,556C300.6,553.5 300,548 301.8,549.8Z" fill="#ffffff" class="k"/>
<path d="M302,572 L305,575 L309,599 L306,598Z" fill="#00ffff" class="k"/>
<path d="M0,238C1.2,231.9 10,240 15,242C20,244 25,249.5 30,250C35,250.5 40.8,247.5 45,245C49.2,242.5 51.2,237.2 55,235C58.8,232.8 63.8,230.8 68,232C72.2,233.2 76.3,237.7 80,242C83.7,246.3 87.3,252.5 90,258C92.7,263.5 93.5,270.5 96,275C98.5,279.5 101.3,283.3 105,285C108.7,286.7 114.5,287.8 118,285C121.5,282.2 123.7,273.8 126,268C128.3,262.2 129.3,254.7 132,250C134.7,245.3 137.7,242 142,240C146.3,238 152.5,237.2 158,238C163.5,238.8 170,241.7 175,245C180,248.3 184.8,252.5 188,258C191.2,263.5 193.3,271 194,278C194.7,285 192.7,293 192,300C191.3,307 190,314.2 190,320C190,325.8 193,331.3 192,335C191,338.7 187.7,341.2 184,342C180.3,342.8 174.8,341.2 170,340C165.2,338.8 160,336.7 155,335C150,333.3 144.5,330 140,330C135.5,330 132.2,333 128,335C123.8,337 119.7,340.3 115,342C110.3,343.7 105,345.3 100,345C95,344.7 90,342.2 85,340C80,337.8 75,334.2 70,332C65,329.8 60,328.2 55,327C50,325.8 45,325.7 40,325C35,324.3 30,323.8 25,323C20,322.2 14.2,320.8 10,320C6,319.2 0.5,322 0,318C-1.7,304.3 -2.5,250.7 0,238Z" fill="#ffe100" class="k"/>
<ellipse cx="48" cy="227" rx="11" ry="12" fill="#ffe100" class="k"/>
<path d="M191,289C192.5,286.8 197,285.7 200,287C203,288.3 207.8,293.3 209,297C210.2,300.7 208.8,306.8 207,309C205.2,311.2 200.7,311.5 198,310C195.3,308.5 192.2,303.5 191,300C189.8,296.5 189.5,291.2 191,289Z" fill="#ffe100" class="k"/>
<path d="M178,352C179.3,349 186.3,349.3 190,350C193.7,350.7 197.8,353.5 200,356C202.2,358.5 203.8,362.7 203,365C202.2,367.3 198.5,369.5 195,370C191.5,370.5 184.8,371 182,368C179.2,365 176.7,355 178,352Z" fill="#ffe100" class="k"/>
<path d="M57,440C59.5,437.5 72.8,432.5 80,425C87.2,417.5 95.3,402 100,395C103.2,390.2 103,385.8 108,383C113,380.2 123,379.2 130,378C137,376.8 144.2,375.7 150,376C155.8,376.3 161.7,377.3 165,380C168.3,382.7 169.5,387.8 170,392C170.5,396.2 169.7,401.3 168,405C166.3,408.7 164.4,412 160,414C155.3,416.2 146.7,417 140,418C133.3,419 126.7,418.8 120,420C113.3,421.2 106.7,423 100,425C93.3,427 85.8,429.5 80,432C74.2,434.5 68.8,438.7 65,440C62,441.1 54.7,442.3 57,440Z" fill="#ffe100" class="k"/>
<path d="M246,530C248.3,526.2 254,523.3 260,522C266,520.7 276.7,520.3 282,522C287.3,523.7 290.2,527.3 292,532C293.8,536.7 294.2,545.3 293,550C291.8,554.7 289.2,557.8 285,560C280.8,562.2 273.5,563.3 268,563C262.5,562.7 255.7,561 252,558C248.3,555 247,549.7 246,545C245,540.3 243.7,533.8 246,530Z" fill="#ffe100" class="k"/>
<ellipse cx="150" cy="552" rx="6" ry="6" fill="#ffe100" class="k"/>
<path d="M256,669 L267,662 L280,669 L268,676Z" fill="#ffe100" class="k"/>
<path d="M237,602C238.3,600 243.8,598.7 246,600C248.2,601.3 250.3,607.2 250,610C249.7,612.8 246,616.7 244,617C242,617.3 239.2,614.5 238,612C236.8,609.5 235.7,604 237,602Z" fill="#ffe100" class="k"/>
<ellipse cx="45" cy="227" rx="6" ry="6" fill="#ffc800" class="k"/>
<path d="M0,248C1,243.2 7.8,248.3 12,250C16.2,251.7 20.7,256 25,258C29.3,260 33.8,262.5 38,262C42.2,261.5 46.7,257.8 50,255C53.3,252.2 54.7,247.2 58,245C61.3,242.8 66,241.2 70,242C74,242.8 78.7,246.2 82,250C85.3,253.8 87.8,259.7 90,265C92.2,270.3 93.3,277.8 95,282C96.4,285.5 97.2,288.3 100,290C102.8,291.7 108.3,293.7 112,292C115.7,290.3 119.3,285 122,280C124.7,275 125.7,267 128,262C130.3,257 132.3,252.7 136,250C139.7,247.3 145,246 150,246C155,246 161,247.7 166,250C171,252.3 176.5,255.3 180,260C183.5,264.7 186,271.3 187,278C188,284.7 186.5,293 186,300C185.5,307 184,314.5 184,320C184,325.3 187,330 186,333C185,336 181.5,337.8 178,338C174.5,338.2 169.7,335.7 165,334C160.3,332.3 154.5,329.7 150,328C145.5,326.3 142,323.7 138,324C134,324.3 130,327.7 126,330C122,332.3 118.3,336.3 114,338C109.7,339.7 104.3,340.5 100,340C95.7,339.5 92.2,337.3 88,335C83.8,332.7 79.7,328.5 75,326C70.3,323.5 65,321.3 60,320C55,318.7 50.3,318.7 45,318C39.7,317.3 33.5,317 28,316C22.5,315 16.7,313 12,312C7.3,311 0.9,314.8 0,310C-2,299.3 -2,258 0,248Z" fill="#ffc800" class="k"/>
<path d="M98,386C102.3,382.8 111.3,382 120,381C128.7,380 142.8,379.2 150,380C155.7,380.7 161.3,382.7 163,386C164.7,389.3 163.8,396.8 160,400C156.2,403.2 146.7,403.7 140,405C133.3,406.3 126.7,407.2 120,408C113.3,408.8 104.3,411.3 100,410C95.7,408.7 94.3,404 94,400C93.7,396 93.7,389.2 98,386Z" fill="#ffc800" class="k"/>
<path d="M51,252C53,249.2 58,248.3 62,248C66,247.7 71,247.7 75,250C79,252.3 83.2,257.3 86,262C88.8,266.7 90.5,273.3 92,278C93.5,282.7 95.7,287 95,290C94.3,293 91.3,295 88,296C84.7,297 79.3,297 75,296C70.7,295 65.7,293 62,290C58.3,287 55,282.2 53,278C51,273.8 50.3,269.3 50,265C49.7,260.7 49,254.8 51,252Z" fill="#ffaa00" class="k"/>
<path d="M0,262C1,258.1 6.3,260.7 10,262C13.7,263.3 19.5,266.2 22,270C24.5,273.8 25.7,280.7 25,285C24.3,289.3 21.3,293.5 18,296C14.7,298.5 8,299.3 5,300C3,300.4 0.3,302 0,300C-0.8,293.7 -1.7,268.3 0,262Z" fill="#ffaa00" class="k"/>
<path d="M82,300C84.5,294.7 90.7,290.2 95,288C99.3,285.8 103.8,286.3 108,287C112.2,287.7 117,289 120,292C123,295 125,300 126,305C127,310 127.3,317 126,322C124.7,327 121.5,331.7 118,335C114.5,338.3 109.3,340.7 105,342C100.7,343.3 95.7,344 92,343C88.3,342 85,339.8 83,336C81,332.2 80.2,326 80,320C79.8,314 79.5,305.3 82,300Z" fill="#ffaa00" class="k"/>
<path d="M134,248C136.2,245.5 140.7,243.5 145,243C149.3,242.5 155.5,243.5 160,245C164.5,246.5 168.7,248.5 172,252C175.3,255.5 178.2,260.5 180,266C181.8,271.5 182.7,278.5 183,285C183.3,291.5 181.8,298.8 182,305C182.2,311.2 184.7,317.8 184,322C183.4,325.9 180.7,329.5 178,330C175.3,330.5 171.8,327 168,325C164.2,323 158.8,318.8 155,318C151.2,317.2 148.3,319.3 145,320C141.7,320.7 137.8,322.8 135,322C132.2,321.2 128.8,318.7 128,315C127.2,311.3 128.7,304.5 130,300C131.3,295.5 135.2,293 136,288C136.8,283 135.7,275 135,270C134.3,265.1 132.2,261.7 132,258C131.8,254.3 131.8,250.5 134,248Z" fill="#ffaa00" class="k"/>
<path d="M36,302C36.8,299.5 41.8,299.5 45,300C48.2,300.5 53.7,302.7 55,305C56.3,307.3 55.5,312.3 53,314C50.5,315.7 42.8,317 40,315C37.2,313 35.2,304.5 36,302Z" fill="#ffaa00" class="k"/>
<path d="M105,390C108.3,387.2 117.5,386.7 125,386C132.5,385.3 145,384.7 150,386C153.6,387 156.7,391.7 155,394C153.3,396.3 145.8,398.7 140,400C134.2,401.3 125.8,401.5 120,402C114.2,402.5 107.5,405 105,403C102.5,401 101.7,392.8 105,390Z" fill="#ffaa00" class="k"/>
<path d="M60,262C61.2,258 66.7,257.5 70,258C73.3,258.5 77.5,261.7 80,265C82.5,268.3 84.7,274.2 85,278C85.3,281.8 84.2,286.2 82,288C79.8,289.8 75.2,290 72,289C68.8,288 64.9,286.2 63,282C61,277.5 58.8,266 60,262Z" fill="#ff8200" class="k"/>
<path d="M88,337C86.3,335 84.9,330.9 86,327C87.2,322.8 92,316.7 95,312C98,307.3 101.2,302.2 104,299C106.7,296 109.3,293 112,293C114.7,293 118.5,295.8 120,299C121.5,302.2 121.7,308 121,312C120.3,316 118.5,319.3 116,323C113.5,326.7 109.3,331.3 106,334C102.7,336.7 99,338.5 96,339C93,339.5 89.7,339 88,337Z" fill="#ff8200" class="k"/>
<path d="M142,270C143.7,268 147.8,266.7 150,268C152.2,269.3 154.7,274.7 155,278C155.3,281.3 153.8,286.3 152,288C150.2,289.7 146,289.3 144,288C142,286.7 140.3,283 140,280C139.7,277 140.3,272 142,270Z" fill="#ff8200" class="k"/>
<path d="M152,248C153,244.9 157.3,244.7 160,246C162.7,247.3 166.8,252 168,256C169.2,260 168.3,267 167,270C165.7,272.9 162.2,274.8 160,274C157.8,273.2 155.3,269.1 154,265C152.7,260.7 151,251.2 152,248Z" fill="#ff8200" class="k"/>
<path d="M128,304C129.5,301.8 134.7,301 137,302C139.3,303 142.2,307.3 142,310C141.8,312.7 138.3,317.2 136,318C133.7,318.8 129.3,317.3 128,315C126.7,312.7 126.5,306.2 128,304Z" fill="#ff8200" class="k"/>
<path d="M38,304C39,302.3 43.7,302.3 46,303C48.3,303.7 51.3,306.3 52,308C52.7,309.7 52,312.2 50,313C48,313.8 42,314.5 40,313C38,311.5 37,305.7 38,304Z" fill="#ff8200" class="k"/>
<path d="M15,288C15.8,286.2 20.3,285 22,286C23.7,287 25.8,292.2 25,294C24.2,295.8 18.7,298 17,297C15.3,296 14.2,289.8 15,288Z" fill="#ff8200" class="k"/>
<path d="M71.5,268C73.9,267.9 78.9,273.7 79,276.5C79.1,279.3 74.4,284.9 72,285C69.6,285.1 64.6,279.8 64.5,277C64.4,274.2 69.1,268.1 71.5,268Z" fill="#ff5a00"/>
<path d="M72.5,272.5C73.7,272.5 76,275.6 76,277C76,278.4 73.7,281 72.5,281C71.3,281 69,278.4 69,277C69,275.6 71.3,272.5 72.5,272.5Z" fill="#ff2d00"/>
<path d="M92,334C90.8,332.7 88.8,329.1 90,326C91.3,322.5 97,317 100,313C103,309 105.8,304.3 108,302C109.6,300.3 111.3,298.3 113,299C114.7,299.7 117.7,303.2 118,306C118.3,308.8 117.1,312.4 115,316C112.8,319.7 108,325 105,328C102.2,330.8 99.2,333 97,334C95.2,334.8 93.2,335.3 92,334Z" fill="#ff5a00"/>
<ellipse cx="114" cy="313" rx="2" ry="1.6" fill="#ff2d00"/>
<path d="M148.6,275 L154.4,281 L148.6,287 L142.8,281Z" fill="#ff5a00"/>
<path d="M148.3,277.5 L151,281 L148.3,284 L145.6,281Z" fill="#ff2d00"/>
<path d="M160,259.4 L163.3,264.7 L160,270 L156.7,264.7Z" fill="#ff5a00"/>
<ellipse cx="134" cy="309" rx="3" ry="3" fill="#ff5a00"/>
</g>
<path d="M0,175 L5,165 L20,167.5 L25,131 L42.5,132.5 L44,142.5 L55,140 L57.5,135.5 L70,141 L82.5,147.5 L92.5,152.5 L100,157.5 L110,156 L115,159 L125,166 L130,170 L140,176 L150,179 L170,181 L175,174 L185,170 L197.5,172.5 L202.5,180 L215,185 L222.5,186 L227.5,190 L229,200" class="b"/>
<path d="M229,200 L232.5,190 L240,177.5 L245,174 L257.5,162.5 L277.5,170 L285,167 L292.5,171 L312.5,165 L320,159 L327.5,155 L332.5,142.5 L337.5,139.5 L347.5,139.5 L352.5,132.5 L355,107.5 L362.5,97.5 L380,92.5 L385,82.5 L392.5,77.5 L400,67.5 L410,64 L420,67.8 L425,63.7 L431.4,62.9 L442.9,64.2 L444.2,81.7 L447.8,82.8 L452.7,80 L459.2,81.7 L465.8,80 L469,71 L472.3,62.9 L482.1,60.9 L488.6,54.7 L495.2,49 L501.7,56.3 L505,69.4 L508.2,74.3 L513.1,74.3 L514,80.8 L519.7,82.8 L526.2,81.7 L529.5,84.1 L531.1,98.8 L527,111.9 L534.4,114.3 L544.2,108.6 L550.7,111.9 L558.9,116 L562.2,105.4 L567,95.6 L573.6,90.7 L580,89.8 L585,82.5 L592.5,82.5 L597.5,80 L605,82.5 L612.5,80 L622.5,79 L630,85 L640,91 L647.5,96 L655,90 L662.5,85 L660,77.5 L665,75 L675,77.5 L682.5,72.5 L687.5,70 L700,74 L715,72.5 L725,74 L735,80 L741.7,80.8 L751.7,85.8 L758.3,91.7 L761.7,98.3 L763.3,106.7 L773.3,109.2 L783.3,113.3 L786.7,116.7 L796.7,118.3 L803.3,123.3 L818.3,125 L829,130 L841.5,130 L849,135 L851.5,130 L851.5,122.5 L836.5,110 L834,95 L835,75 L829,60 L827.8,52.5 L830,45 L845,25 L855,10 L860,0" class="b"/>
<path d="M427.4,40 L429,50 L431.4,62" class="b"/>
<path d="M818.3,125 L816.5,140 L806.5,150 L801.5,165 L799,180 L791.5,192.5 L781.5,202.5 L779,230 L780,235" class="b"/>
<path d="M734,245 L744,244 L759,240 L774,239 L780,235 L788,232 L794,235 L794,241 L798,242 L800,250 L805,259 L816,259 L821,265 L828,274 L831,281 L846,277 L856,285 L859,292 L858,300 L861,304 L865,301 L866,296 L870,297 L878,296 L883,290 L886,280 L896,281 L906,287 L914,294 L926,297 L931,292 L954,292 L968,300 L979,296" class="b"/>
<path d="M861,304 L851,312 L849,320 L844,325 L836,332 L826,335 L819,332 L814,335 L811,340 L801,341 L794,347 L791,355 L788,365 L781,367 L771,375 L770,385 L770,397 L764,402 L759,410" class="b"/>
<path d="M734,245 L725,235 L720,225 L710,212 L697,212 L690,215 L680,215 L665,220 L650,217 L637,211 L622,215 L605,220 L604,230 L600,235 L590,255 L582.5,262.5 L575,260 L567.5,265 L565,271 L552.5,277.5 L544,284 L532.5,279 L529,272.5 L520,271 L514,269 L505,270 L500,275 L499,285 L490,290 L479,290.5 L470,295 L460,292.5 L445,295 L430,297.5 L425,302.5 L420,310 L421,325 L426,331 L420,332.5 L410,340 L395,337.5 L377.5,339 L362.5,342.5 L350,341 L317.5,341 L305,335 L295,327.5 L282.5,315 L270,301 L252.5,297.5 L245,299" class="b"/>
<path d="M229,200 L230,207.5 L231,214 L222,224 L219.6,233 L219,242 L224.7,246 L229.8,256 L231,272 L237.5,278 L241,284 L240,290 L244.5,295 L245,300 L241,310.5 L240,318 L233.6,322 L236,327 L237.5,345 L238.7,347.5 L228.5,349 L219.6,350 L215.8,346 L212,351 L203,349 L199,342.5 L195.3,340 L186.4,338 L181.3,340 L178.7,345 L171,349 L168.5,352 L175,355 L185,358 L191.5,360 L195.3,367 L196.6,374 L194,380 L192.5,383 L175,392.5 L170,395 L170,415 L166,425 L172.5,437.5 L171,450 L172.5,456 L150,456 L140,465 L130,477.5 L115,482.5 L115,495 L117.5,506" class="b"/>
<path d="M117.5,506 L100,500 L77.5,500 L67.5,507.5 L60,515 L52.5,510 L37.5,509 L15,507.5 L5,507.5 L0,512.5" class="b"/>
<path d="M115,482.6 L145.6,478.7 L153,482.6 L152,494 L161,509.4 L158.3,517 L173.6,537.5 L184,542.6 L199,558 L209.4,560.4 L212,573 L224.7,593.6 L232.4,598.8 L247.5,602.5 L252.5,615 L260,627.5 L272.5,630 L282.5,630 L292.5,640 L297.5,647.5 L310,650 L317.5,657.5 L327.5,657.5 L340,657.5 L350,656 L365,660 L375,665 L380,664.4" class="b"/>
<path d="M117.5,506 L135,522 L143,532 L141.7,537.5 L141.7,552.8 L145.6,558 L132.8,555.3 L122.6,554 L120,565.6 L102,573 L86.8,578.3 L74,581 L69,593.6 L71.5,604 L76.6,609 L76.6,620 L73.8,640 L60,642.5 L47.5,642.5 L42.5,647.5 L27.5,655 L27.5,662.5 L37.5,667.5 L37.5,670 L30,677.5 L27.5,685 L32.5,695 L37.5,697.5 L20,702.5 L10,700 L0,694" class="b"/>
<path d="M200,345 L199,330 L203,318 L206,312 L212,310 L215,314 L213,322 L208,330 L204,340 L206,348 L210,350" class="lk"/>
<path d="M254,500 L260,499 L272.5,495 L285,494 L300,482.5 L320,475 L325,472.5 L339,460 L341,454 L345,459 L355,462.5 L352.5,470 L340,476 L325,482.5 L310,490 L295,496 L282.5,505 L270,509 L255,507.5 L254,500" class="lk"/>
<path d="M380,664.4 L388.9,657.8 L402.2,646.7 L408.9,638.9 L420,641.1 L424.4,637.8 L433.3,635.6 L442.2,634.4 L446.7,628.9 L451.1,624.4 L455.6,621.1 L460,624.4 L468.9,627.8 L475.6,625.6 L477.8,621.1 L486.7,616.7 L495.6,612.2 L500,606.7 L502.2,602 L517.1,597.2 L532.2,601 L551.1,598.4 L562.4,601 L581.3,602.9 L596.4,599.1 L611.6,596.1 L626.7,599.1 L638,591.6 L641.8,584 L656.9,580.2 L672,584 L683.3,572.7 L687.1,557.6 L694.7,550 L694.7,531.1 L702.2,519.8 L713.6,512.2 L721.1,497.1 L724.9,482 L732.5,466.9 L736.2,455.6 L751.3,440.4 L755.1,425.3 L759,410" class="b"/>
<path d="M581.3,602.9 L596.4,625.6 L611.6,636.9 L626.7,644.5 L638,659.6 L643.7,661.4 L643.7,689.8 L649.3,704.9 L660.7,720 L672,730 L685,738 L693,740 L704,748 L720,756 L725.5,761.6 L714.7,772.4 L714.7,783.2 L728.2,791.3 L731,799.4 L714.7,804.8 L709.3,810.2 L717.4,818.3 L736.3,821 L752.5,829 L774,831.8 L795.8,834.5 L817.4,829 L828.2,823.7 L839,821 L855,826.4 L866,834.5 L876.8,837" class="b"/>
<path d="M433.3,635.6 L431.1,644.4 L427.8,653.3 L433.3,660 L437.8,671.1 L440,677.8 L435.6,688.9 L440,696 L448.6,693 L457,704 L451.4,713 L443,721.4 L445.7,730 L457,735.7 L474.3,738.6 L485.7,744.3 L491.4,753 L485.7,757 L477,755.7 L468.6,755.7 L460,753 L457,761.4 L451.4,770 L453.3,777.8 L455.6,788.9 L457.8,793.3 L446.7,797.8 L444.4,800" class="b"/>
<path d="M0,694 L-5,700" class="b"/>
<path d="M396.7,432 L398,428 L408,425 L409,428 L398,435.5 L396.7,432" class="lk"/>
<path d="M141.7,537.5 L153,531 L173.6,537.5" class="b"/>
<path d="M85,742.7 L106,741.3 L117,750.6 L122,761 L132.8,772 L143.4,777 L148.7,766.6 L154,756 L164.7,745.3 L186,745.3 L199,750.6 L204.5,742.7 L215,742 L230,748 L250,750.6 L260.6,756 L271,757.3 L282,761.2 L292.5,757.3 L303,761.2 L313.7,771.9 L321.7,769.2 L332.3,760 L340.3,765.2 L356.2,758.6 L366.9,763.9 L377.5,766.6 L388,773.2 L394.8,769.2 L401.4,767.9 L409.4,771.9 L414.7,779.8 L420,785.2 L420,795.8 L430.6,803.7 L446.5,803.7 L457,799.8 L465.1,797.1 L478.4,797.1 L486.4,801 L483.7,819.7 L478.4,833 L467.8,851.6 L459.8,862.2 L458.5,878 L459.8,888.7 L467.8,900" class="b"/>
<path d="M82.3,745.3 L79.7,758.6 L77,774.5 L75.7,793 L73,806.4 L79.7,819.7 L87.6,821 L93,819.7 L101,833 L106,841 L103.6,849 L114,851.6 L117,862.2 L118.2,872.8 L123.5,880.8 L122.2,891.4 L124.8,900" class="b"/>
<path d="M454.5,761.2 L454.5,787.8 L446.5,795.8 L445.2,803.7" class="b"/>
<path d="M451.9,761.2 L459.8,753.3 L462.5,750.6 L475.8,756 L489,753.3 L490.4,748 L483.7,744 L467.8,740" class="b"/>
<path d="M692.5,740 L700.5,745.3 L719,750.6 L727,758.6 L719,769.2 L713.7,777.2 L713.7,782.5 L724.4,787.8 L729.7,793.1 L727,801 L713.7,806.4 L711,809 L716.4,814.4 L719,819.7 L729.7,817 L740,819.7 L752.5,829 L774,831.8 L795.8,834.5 L817.4,829 L828.2,823.7 L839,821 L855,826.4 L866,834.5 L876.8,837" class="b"/>
<path d="M480,795.8 L485.3,801 L485.3,811.7 L480,830.3 L477,837 L471.6,864.3 L466,900" class="b"/>
<path d="M0,846.2 L16,864.8 L32,880.8 L45,888.7 L43.8,892.7 L26.6,888.7 L16,883.4 L0,864.8" class="lk"/>
<path d="M0,872 L6,880 L12,886 L18,893 L20,900" class="lk"/>
<path d="M4,878 L10,884 L8,890 L2,886" class="lk"/>
<path d="M385,863 L390,862 L392,865 L388,866 L385,863" class="lk"/>
<path d="M630,353.8 L637.5,356 L632.5,365 L630,372.5 L620,377.5 L617.5,385 L610,386 L612.5,382.5 L620,375 L625,365 L626,357.5 L630,353.8" class="lk"/>
<path d="M500,80 L505,77 L511,78 L510,83 L503,84 L500,80" class="lk"/>
<path d="M759,176 L765,172 L772,171 L771,175 L763,178 L759,176" class="lk"/>
<path d="M726,122 L729,124 L735,138 L734,142 L731,140 L727,130 L726,122" class="lk"/>
<path d="M565,568 L569,567 L572,571 L569,575 L565,574 L565,568" class="lk"/>
<path d="M525,610 L531,608 L533,611 L527,612 L525,610" class="lk"/>
<path d="M535,606 L537,606 L537,613 L535,613 L535,606" class="lk"/>
<path d="M598,735 L601,733 L604,735 L601,737 L598,735" class="lk"/>
<path d="M0,120.5 L1.8,120.5 L2.2,124 L1.5,125.5" class="b"/>
<path d="M4.5,126 L5,122.5 L8.5,122.5 L8.5,126 L5,126" class="b"/>
<path d="M637,0 L632,7.3 L622,14.7 L624.8,24.5 L620,34 L617.4,44 L607.6,53.8 L595.4,58.7 L595.4,63.6 L598,70 L600,80" class="r"/>
<path d="M849.8,4.9 L842.5,12.2 L823,14.7 L803.3,7.3 L783.8,9.8 L778.9,19.6 L783.8,34.2 L778.9,44 L788.6,53.8 L793.5,63.6 L800,75 L805,85 L812,95 L818,105" class="r"/>
<path d="M871.8,63.6 L891.4,49 L915.8,41.6 L930.5,49 L955,49 L979,49" class="r"/>
<path d="M240,0 L255,20 L262,30 L268,45" class="r"/>
<path d="M320,225 L315,245 L315,257.5 L330,280 L335,295 L341,307.5 L342.5,325 L350,335 L355,341" class="r"/>
<path d="M250,280 L267.5,272.5 L287.5,280 L305,287.5 L315,297.5 L327.5,310 L341,312.5" class="r"/>
<path d="M432.5,332.5 L440,340 L447.5,332.5 L457.5,337.5 L460,355 L452.5,380 L457.5,400 L455,410 L450,440 L445,460 L448,480 L452,500 L445,520 L440,540 L438,560 L440,580 L437,600 L432,620 L428,640" class="r"/>
<path d="M436,335 L443,345 L451,340 L455,345 L455,360 L448,380 L452,400 L450,410 L445,440 L441,460 L443,480 L447,500 L440,520 L436,540 L434,560 L436,580 L433,600 L428,620" class="r"/>
<path d="M307.5,345 L295,355 L282.5,362.5 L275,375 L270,395 L265,410" class="r"/>
<path d="M245,347.5 L275,345 L295,347.5" class="r"/>
<path d="M245,390 L270,390" class="r"/>
<path d="M734,274 L759,262 L771,250 L779,237" class="r"/>
<path d="M794,250 L801,277 L809,285 L819,287 L829,284" class="r"/>
<path d="M804,282 L816,300 L834,315 L845,324 L881,331 L894,339 L918,342 L919,355 L911,372 L910,410 L905,430 L900,450" class="r"/>
<path d="M851,277 L864,282 L881,275 L886,267 L899,266 L914,275 L931,290" class="r"/>
<path d="M927,770 L933.7,756 L938.6,741.7 L937,729 L935,712.5 L930,710 L911,719 L896,726 L888,730 L877,732" class="r"/>
<path d="M935,712.5 L935,701 L943,698 L960,694" class="r"/>
<path d="M960,590 L940,600 L920,612 L900,620 L880,630 L860,640" class="r"/>
<path d="M143.4,777 L127.5,779.8 L122.2,793 L114.2,797.1 L101,789 L90.3,793 L87.6,801 L95.6,811.7 L101,825 L111.6,841 L117,856.9 L117,878 L114.2,883.4 L119.5,891.4" class="r"/>
<path d="M260,791.8 L247,803.7 L241.7,814.4 L233.7,819.7 L236.4,830.3 L231,841 L233.7,851.6 L239,864.8 L244.4,878 L247,886 L241.7,900" class="r"/>
<path d="M250,798.4 L263.3,785.2 L271.2,769.2 L276.6,763.9" class="r"/>
<path d="M382.8,773.2 L372.2,777.2 L358.9,786.5 L345.6,793.1 L340.3,803.7 L337.6,819.7 L340.3,841 L348.3,859.5 L348.3,867.5 L340.3,875.5 L329.7,883.4 L319,891.4 L316.4,900" class="r"/>
<path d="M483.7,797.1 L494.4,793.1 L505,787.8" class="r"/>
<path d="M586.2,740 L591.6,750.6 L589,758.6 L596.9,771.9 L596.9,782.5 L591.6,790.5 L596.9,801 L607.5,809 L626,806.4 L628.7,814.4 L631.4,822.3 L639.4,833 L644.7,835.6" class="r"/>
<path d="M623.4,740 L612.8,750.6 L607.5,761.2 L604.8,774.5 L612.8,782.5 L623.4,790.5 L628.7,798.4 L628.7,806.4" class="r"/>
<path d="M607.5,809 L602.2,817 L594.2,825 L591.6,835.6" class="r"/>
<path d="M480,798.4 L490.6,793.1 L506.6,787.8 L519.8,790.5 L525.2,801 L525.2,817 L533.1,825 L549,833 L559.7,834.3 L570.3,833 L581,830.3 L586.2,827.6" class="r"/>
<path d="M655.3,835.6 L671.2,827.6 L684.5,822.3 L697.8,817 L708.4,810.4 L719,806.4" class="r"/>
<path d="M676.5,825 L679.2,835.6 L681,846 L684,860 L682,875 L686,890 L684,900" class="r"/>
<path d="M480,745.3 L496,745.3 L506.6,742.7 L512,749.3 L533,748 L543.7,742.7 L551.7,748 L557,753.3 L573,753.3 L586.2,756" class="r"/>
<path d="M900,760 L905,775 L915,790 L925,800 L935,815 L950,830 L960,845 L970,860 L979,870" class="r"/>
<path d="M840,770 L835,790 L830,810 L832,835" class="r"/>
<path d="M0,510.7 L15.3,514.5 L58.7,522 L84.3,532.4 L107,547.7 L138,560.4 L153,565.6 L209.4,570.7 L230,580 L250,590 L275,590 L300,592" class="r"/>
<path d="M48.5,420 L56,435 L61.3,450.6 L66.4,471 L71.5,486.4 L76.6,496.6" class="r"/>
<path d="M84.3,440.4 L97,458.3 L115,466 L135.3,468.5 L153,471 L173.6,466 L199,450.6 L212,443 L222,425 L235,410 L245,395" class="r"/>
<path d="M153,476 L163.4,484 L176,491.5 L178.7,509.4 L178.7,527.3" class="r"/>
<path d="M0,590 L25,600 L30,605 L50,615 L60,625 L75,635 L95,647.5 L107.5,650 L125,650 L135,657.5 L140,667.5 L147.5,680 L152.5,695 L160,707.5 L175,715 L190,725 L200,735 L215,742" class="r"/>
<path d="M42.5,667.5 L55,672.5 L57.5,690 L75,692.5 L95,687.5 L115,702.5 L135,700 L150,705" class="r"/>
<path d="M0,259 L16.6,253.7 L32,262.7 L55,255 L66.4,237 L71.5,230.7 L76.6,228 L89.4,229.5 L102,234.6 L115,233.3 L120,240.3 L132.8,241 L145.5,242.2 L158.3,240.3 L163.4,243.5 L168.5,251.2 L173.6,260 L180,269 L186.4,274.2 L196.6,278 L209.4,279.3 L222,278 L232.4,274.2 L241.3,276.7 L245,278" class="r"/>
<path d="M268,45 L270.4,60 L272,80 L280.6,93.7 L292,107 L295.7,117.3 L287.3,130.8 L280.6,141 L270.4,151 L260.3,157.7 L250,165" class="r"/>
<path d="M324.4,296 L317.6,275.7 L314.3,255.5 L321,205 L327.7,178 L341.2,161 L358,147.6 L368,141 L378.3,124 L385,120.7 L390,124 L395,114 L412,103.8 L432,114 L439,124 L459,120.7 L466,127.4 L479.4,130.8 L499.6,127.4 L516.5,134 L530,139 L540.4,142.6 L554.3,141.7 L563,146 L567.3,154.7 L569,147.8 L578.6,145.2 L589,145.2 L599.4,153.9 L616.8,156.5 L634,153.9 L651.5,156.5 L665.4,165 L670.6,160.8 L679.3,163.4 L682.8,168.6 L682.8,180.8 L688,189.4 L695,198 L693.2,220" class="r"/>
<path d="M570,160 L573.4,164.3 L571.7,168.6 L561.3,171.2 L547.4,167.7 L530,170.3 L499.6,174.6 L466,184.7 L462.6,194.8 L459,211.7 L439,211.7 L422,218.4 L415.4,228.5 L402,248.7 L398.5,269 L405.3,289 L412,300 L415,315 L420,330" class="r"/>
<path d="M536.7,73.5 L533.3,90.3 L536.7,103.8 L560,97 L575,96 L590,100" class="r"/>
<path d="M230,275.7 L250,279 L267,272 L297.4,282.4 L314.3,296" class="r"/>
<path d="M594.5,180 L608,193.5 L604.6,207 L591,227 L586,247.4 L591,259.2" class="r"/>
<path d="M517,203.6 L523.7,210.3 L527,234 L530.4,250.8 L520.3,260.9 L510.2,267.6" class="r"/>
<path d="M587.7,259.2 L618,259.2 L631.6,264.3 L638.3,274.4 L648.4,291.2 L655,304.7 L668.6,308 L675.4,304.7" class="r"/>
<path d="M628.2,213.7 L628.2,230.6 L631.6,247.4 L634,260" class="r"/>
<path d="M695.6,210.3 L685.5,223.8 L678.7,250.8 L658.5,274.4 L655,291.2 L658.5,304.7 L672,308 L668.6,321.6 L665.3,338.4 L651.8,355.3 L631.6,355.3 L624.8,365.4 L614.7,382.2 L604.6,392.3 L597.8,399 L594.5,416 L590,440 L585,460" class="r"/>
<path d="M672,308 L685.5,298 L702.3,284.5 L726,264.3 L739.4,257.5 L759.6,260.9 L773,254 L786.6,240.7 L793.3,234" class="r"/>
<path d="M692.2,277.7 L709,260.9 L722.6,247.4 L739.4,240.7 L759.6,237.3 L779.9,234" class="r"/>
<path d="M793.3,240.7 L796.7,260.9 L806.8,281.1 L820,291.2" class="r"/>
<path d="M540.6,281 L547.3,298 L540.6,308 L523.7,315 L520.3,330 L520.3,365 L523.7,382 L534,386 L547.3,382" class="r"/>
<path d="M557.4,277.7 L567.5,294.6 L577.6,314.8 L581,341.8 L577.6,355.3 L557.4,365.4 L550.7,375.5 L547.3,385 L550,400 L555,420" class="r"/>
<path d="M540,490 L560,484 L567,477 L577.4,473.8 L594.7,475.5 L612,480.7 L629.5,473.8 L650.3,472 L674.6,465 L699,465 L723,463.4 L733.7,458 L747.6,449.5 L768.4,453 L796.2,447.7 L824,453 L831,463.4 L848.3,468.6 L865.7,466.8 L880,470 L900,478 L925,486 L950,492 L979,500" class="r"/>
<path d="M674.6,465 L692,449.5 L709.4,432 L730.2,425 L747.6,414.7 L754.5,418.2" class="r"/>
<path d="M653.8,473.8 L667.7,484.2 L681.6,501.6 L699,519 L712.8,532.8 L733.7,550.2 L761.5,550.2 L782.3,557 L796.2,569.3 L820.5,574.5 L837.9,572.8 L848.3,588.4 L865.7,590 L879.6,585 L895,590 L910,600" class="r"/>
<path d="M560,421.7 L567,428.6 L574,435.6 L574,446 L567,460 L560,466.8" class="r"/>
<path d="M574,477.3 L577.4,508.5 L574,529.4 L577.4,557 L581,574.5 L574,585 L560,592" class="r"/>
<path d="M574,585 L594.7,588.4 L629.5,598.8 L657.3,602.3 L685,597 L706,595.4 L726.7,602.3 L747.6,609.2 L768.4,605.8 L789.2,612.7 L803.1,616.2 L824,623 L837.9,623 L860,630 L880,632" class="r"/>
<path d="M619,380 L605,394 L598.2,404.3 L605,414.7 L598.2,425 L580.8,432" class="r"/>
<path d="M28.6,0 L36.8,6.1 L51,14.3 L61.3,20.4 L73.5,26.6 L87.8,34.7 L102,40.9 L112.4,46 L120.5,48 L128.7,46 L129.7,40.9 L126.7,32.7 L133,28 L139,24.5 L143,24.5 L151,28.6 L161.4,40.9 L165.5,47 L171.6,53 L172.6,61.3 L175,77.5 L187.5,97.5 L197.5,110 L200,127.5 L202.5,140 L197.5,150 L190,132.5" class="r"/>
<path d="M195,155 L207.5,157.5 L220,170 L225,185 L227.5,200" class="r"/>
<path d="M195,155 L185,160 L175,170 L165,180 L150,170 L135,162.5 L120,160 L110,150 L105,145 L95,152.5 L80,160 L65,145 L57.5,145 L57.5,155 L55,165 L45,172.5 L37.5,180 L30,182.5" class="r"/>
<path d="M85,0 L103,13.5 L126,27 L139,24.5" class="r"/>
<path d="M252,18 L260,28 L270,42.7 L274,70" class="r"/>
<path d="M339,0 L346,13.5 L355,36 L362,50 L365,62" class="r"/>
<path d="M565.7,590 L563,607 L565.7,621.5 L571.5,641.5 L574.3,664.3 L568.6,675.7 L563,690 L568.6,695.7 L580,710 L583,727 L588.6,744.3 L591.4,761.4 L594.3,770" class="r"/>
<path d="M440,655.7 L463,664.3 L485.7,673 L503,684.3 L517,693 L534.3,695.7 L557,695.7 L563,690" class="r"/>
<path d="M463,738.6 L485.7,744.3 L508.6,747 L531.4,745.7 L545.7,741.4 L554.3,753 L571.4,755.7 L588.6,761.4" class="r"/>
<path d="M605.7,770 L611.4,755.7 L622.9,738.6 L640,724.3 L657,715.7 L668.6,704.3 L680,687 L691.4,675.7 L708.6,673 L720,670 L740,662 L765,662 L790,680 L800,710 L805,740 L800,752" class="r"/>
<path d="M625.7,598.6 L640,601.4 L654.3,608.6 L668.6,604.3 L682.9,601.4 L702.9,595.7 L720,598.6" class="r"/>
<path d="M573.4,179 L580.3,175.6 L594.2,177.3 L596,187.7 L606.4,194.7 L606.4,206.8 L599.4,220" class="r"/>
<path d="M595,54 L598,68 L605,75" class="r"/>
<path d="M796,54 L803,71 L810,78 L813.6,88.6 L831,95.6 L838,109.5 L848,120 L855,130" class="r"/>
<path d="M862,75 L866,68 L873,61 L900,50.4" class="r"/>






<text x="35" y="76" class="cl" transform="rotate(-75 35 76)">50</text>
<text x="87" y="72" class="cl" transform="rotate(30 87 72)">75</text>
<text x="161" y="80" class="cl" transform="rotate(-70 161 80)">75</text>
<text x="236" y="100" class="cl" transform="rotate(-55 236 100)">50</text>
<text x="297" y="118" class="cl" transform="rotate(-60 297 118)">0</text>
<text x="19" y="201" class="cl">75</text>
<text x="29" y="233" class="cl" transform="rotate(-65 29 233)">100</text>
<text x="82" y="283" class="cl" transform="rotate(-50 82 283)">150</text>
<text x="138" y="271" class="cl" transform="rotate(-65 138 271)">150</text>
<text x="23" y="321" class="cl" transform="rotate(30 23 321)">125</text>
<text x="51" y="373" class="cl" transform="rotate(-75 51 373)">0</text>
<text x="109" y="374" class="cl" transform="rotate(-60 109 374)">50</text>
<text x="33" y="421" class="cl" transform="rotate(-50 33 421)">-20</text>
<text x="78" y="426" class="cl" transform="rotate(-40 78 426)">100</text>
<text x="175" y="415" class="cl" transform="rotate(70 175 415)">0</text>
<text x="203" y="467" class="cl" transform="rotate(60 203 467)">50</text>
<text x="224" y="516" class="cl" transform="rotate(15 224 516)">75</text>
<text x="17" y="538" class="cl" transform="rotate(80 17 538)">75</text>
<text x="12" y="618" class="cl" transform="rotate(80 12 618)">50</text>
<text x="271" y="469" class="cl" transform="rotate(65 271 469)">75</text>
<text x="332" y="530" class="cl" transform="rotate(-70 332 530)">0</text>
<text x="390" y="534" class="cl" transform="rotate(-80 390 534)">50</text>
<text x="300" y="580" class="cl" transform="rotate(-80 300 580)">0</text>
<text x="316" y="688" class="cl">0</text>
<text x="725" y="113" class="cl" transform="rotate(60 725 113)">-20</text>
<text x="732" y="65" class="cl" transform="rotate(-70 732 65)">0</text>
<text x="682" y="163" class="cl" transform="rotate(-70 682 163)">0</text>
<text x="602" y="80" class="cl" transform="rotate(-70 602 80)">0</text>
<text x="892" y="115" class="cl" transform="rotate(-60 892 115)">0</text>
<text x="962" y="163" class="cl">-20</text>
<text x="958" y="316" class="cl" transform="rotate(60 958 316)">20</text>
<text x="835" y="62" class="cl">0</text>
<text x="800" y="427" class="cl" transform="rotate(-70 800 427)">0</text>
<text x="649" y="481" class="cl" transform="rotate(-70 649 481)">0</text>
<text x="821" y="512" class="cl" transform="rotate(-60 821 512)">-20</text>
<text x="516" y="699" class="cl" transform="rotate(-60 516 699)">0</text>
<text x="927" y="606" class="cl" transform="rotate(80 927 606)">-20</text>
<text x="849" y="732" class="cl" transform="rotate(-55 849 732)">-20</text>
<text x="950" y="725" class="cl" transform="rotate(-70 950 725)">0</text>
<rect x="2" y="1.6" width="522" height="40.9" fill="#fff" fill-opacity="0.75"/>
<text x="4" y="16.8" font-size="15.5" fill="#000" textLength="498" lengthAdjust="spacingAndGlyphs">ECMWF-INDEX-ANAL Sreh Right ((m/s)^2) 0-1km Monday 06-10-2025 12:00</text>
<text x="4" y="36.8" font-size="15.5" fill="#262626" textLength="512" lengthAdjust="spacingAndGlyphs">ECMWF-INDEX-ANAL SignificantTornadoParameter Monday 06-10-2025 12:00</text>
<rect x="508" y="837" width="469" height="60" fill="#fff" fill-opacity="0.628"/>
<g font-size="12" fill="#000">
<text x="575.5" y="856.5" text-anchor="middle">ECMWF-INDEX-ANAL</text>
<text x="575.5" y="872.5" text-anchor="middle">Sreh</text>
<text x="575.5" y="888.5" text-anchor="middle">(m/s)^2</text>
<rect x="645.5" y="844.5" width="16" height="22" fill="#00ffff" stroke="#000" stroke-width="1.3"/><rect x="661.5" y="844.5" width="16" height="22" fill="#ffffff" stroke="#000" stroke-width="1.3"/><rect x="677.5" y="844.5" width="16" height="22" fill="#ffffc0" stroke="#000" stroke-width="1.3"/><rect x="693.5" y="844.5" width="16" height="22" fill="#ffff80" stroke="#000" stroke-width="1.3"/><rect x="709.5" y="844.5" width="16" height="22" fill="#ffff40" stroke="#000" stroke-width="1.3"/><rect x="725.5" y="844.5" width="16" height="22" fill="#ffff00" stroke="#000" stroke-width="1.3"/><rect x="741.5" y="844.5" width="16" height="22" fill="#ffe100" stroke="#000" stroke-width="1.3"/><rect x="757.5" y="844.5" width="16" height="22" fill="#ffc800" stroke="#000" stroke-width="1.3"/><rect x="773.5" y="844.5" width="16" height="22" fill="#ffaa00" stroke="#000" stroke-width="1.3"/><rect x="789.5" y="844.5" width="16" height="22" fill="#ff8200" stroke="#000" stroke-width="1.3"/><rect x="805.5" y="844.5" width="16" height="22" fill="#ff5a00" stroke="#000" stroke-width="1.3"/><rect x="821.5" y="844.5" width="16" height="22" fill="#ff2d00" stroke="#000" stroke-width="1.3"/><rect x="837.5" y="844.5" width="16" height="22" fill="#ff0000" stroke="#000" stroke-width="1.3"/><rect x="853.5" y="844.5" width="16" height="22" fill="#e6003c" stroke="#000" stroke-width="1.3"/><rect x="869.5" y="844.5" width="16" height="22" fill="#d2007d" stroke="#000" stroke-width="1.3"/><rect x="885.5" y="844.5" width="16" height="22" fill="#be00be" stroke="#000" stroke-width="1.3"/><rect x="901.5" y="844.5" width="16" height="22" fill="#a000ff" stroke="#000" stroke-width="1.3"/><rect x="917.5" y="844.5" width="16" height="22" fill="#7800dc" stroke="#000" stroke-width="1.3"/><rect x="933.5" y="844.5" width="16" height="22" fill="#4b00aa" stroke="#000" stroke-width="1.3"/><rect x="949.5" y="844.5" width="16" height="22" fill="#000080" stroke="#000" stroke-width="1.3"/><line x1="661.5" y1="866" x2="661.5" y2="873.5" stroke="#000" stroke-width="1.3"/><text x="661" y="884.5" text-anchor="middle">-20</text><line x1="693.5" y1="866" x2="693.5" y2="873.5" stroke="#000" stroke-width="1.3"/><text x="693" y="884.5" text-anchor="middle">50</text><line x1="725.5" y1="866" x2="725.5" y2="873.5" stroke="#000" stroke-width="1.3"/><text x="725" y="884.5" text-anchor="middle">100</text><line x1="757.5" y1="866" x2="757.5" y2="873.5" stroke="#000" stroke-width="1.3"/><text x="757" y="884.5" text-anchor="middle">150</text><line x1="789.5" y1="866" x2="789.5" y2="873.5" stroke="#000" stroke-width="1.3"/><text x="789" y="884.5" text-anchor="middle">200</text><line x1="821.5" y1="866" x2="821.5" y2="873.5" stroke="#000" stroke-width="1.3"/><text x="821" y="884.5" text-anchor="middle">250</text><line x1="853.5" y1="866" x2="853.5" y2="873.5" stroke="#000" stroke-width="1.3"/><text x="853" y="884.5" text-anchor="middle">300</text><line x1="885.5" y1="866" x2="885.5" y2="873.5" stroke="#000" stroke-width="1.3"/><text x="885" y="884.5" text-anchor="middle">400</text><line x1="917.5" y1="866" x2="917.5" y2="873.5" stroke="#000" stroke-width="1.3"/><text x="917" y="884.5" text-anchor="middle">500</text><line x1="949.5" y1="866" x2="949.5" y2="873.5" stroke="#000" stroke-width="1.3"/><text x="949" y="884.5" text-anchor="middle">700</text>
</g>
</svg>
</body></html>
